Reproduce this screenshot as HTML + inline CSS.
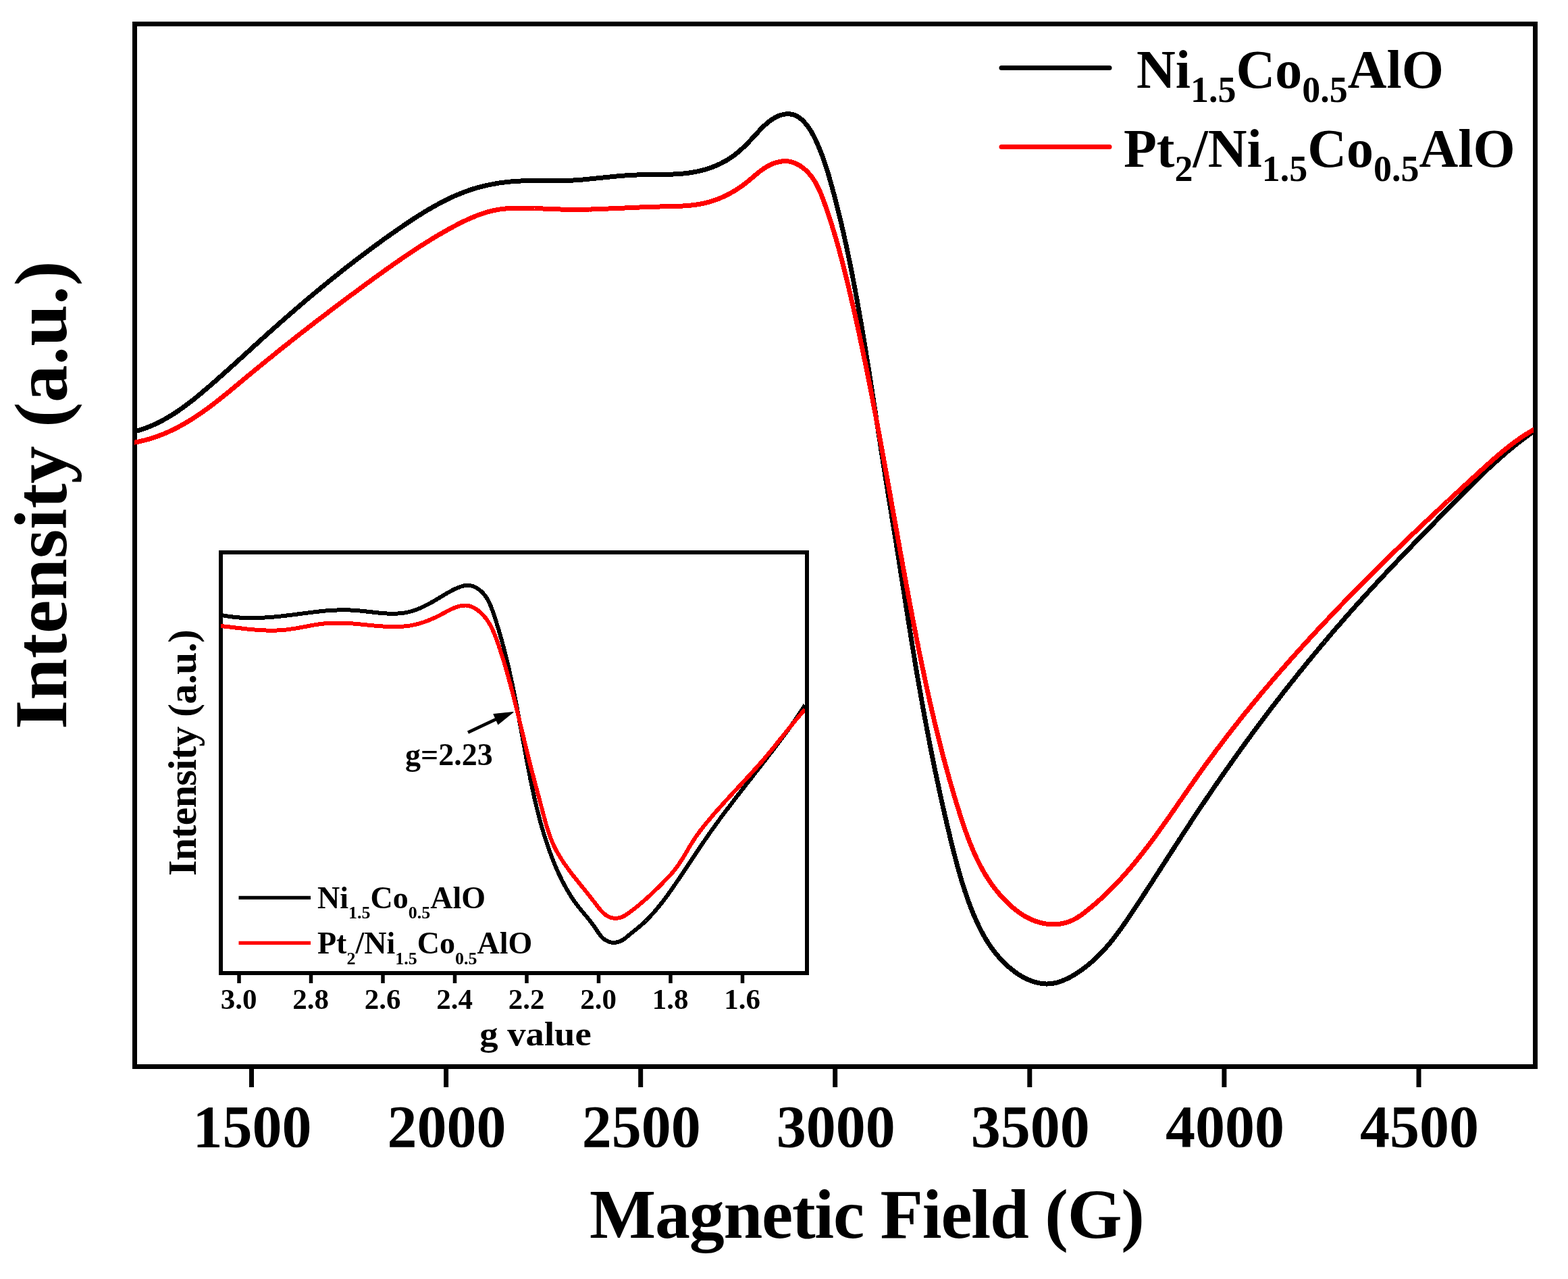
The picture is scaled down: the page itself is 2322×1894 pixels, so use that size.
<!DOCTYPE html>
<html><head><meta charset="utf-8"><title>EPR spectra</title>
<style>html,body{margin:0;padding:0;background:#fff;overflow:hidden;}svg{display:block;}</style>
</head><body>
<svg width="2322" height="1894" viewBox="0 0 2322 1894">
<rect x="0" y="0" width="2322" height="1894" fill="#fff"/>
<defs><clipPath id="cm"><rect x="199" y="39" width="2072" height="1537"/></clipPath><clipPath id="ci"><rect x="327" y="821" width="865" height="617"/></clipPath></defs>
<rect x="199.5" y="35.5" width="2074.0" height="1544.0" fill="none" stroke="#000" stroke-width="7"/>
<line x1="372.5" y1="1579" x2="372.5" y2="1610" stroke="#000" stroke-width="7"/>
<line x1="660.6" y1="1579" x2="660.6" y2="1610" stroke="#000" stroke-width="7"/>
<line x1="948.7" y1="1579" x2="948.7" y2="1610" stroke="#000" stroke-width="7"/>
<line x1="1236.7" y1="1579" x2="1236.7" y2="1610" stroke="#000" stroke-width="7"/>
<line x1="1524.8" y1="1579" x2="1524.8" y2="1610" stroke="#000" stroke-width="7"/>
<line x1="1812.9" y1="1579" x2="1812.9" y2="1610" stroke="#000" stroke-width="7"/>
<line x1="2101.0" y1="1579" x2="2101.0" y2="1610" stroke="#000" stroke-width="7"/>
<g clip-path="url(#cm)" fill="none" stroke-width="7" stroke-linejoin="round" stroke-linecap="butt" shape-rendering="crispEdges">
<path d="M198.3,639.3 L200.3,638.7 L202.3,638.2 L204.3,637.6 L206.2,637.1 L208.2,636.5 L210.1,635.8 L212.0,635.2 L213.9,634.5 L215.8,633.8 L217.7,633.1 L219.6,632.4 L221.5,631.6 L223.3,630.9 L225.2,630.1 L227.0,629.3 L228.8,628.5 L230.6,627.6 L232.4,626.8 L234.2,625.9 L236.0,625.0 L237.8,624.1 L239.5,623.2 L241.3,622.2 L243.0,621.3 L244.8,620.3 L246.5,619.3 L248.2,618.4 L249.9,617.3 L251.6,616.3 L253.3,615.3 L255.0,614.2 L256.7,613.2 L258.4,612.1 L260.0,611.0 L261.7,609.9 L263.3,608.8 L265.0,607.7 L266.6,606.5 L268.2,605.4 L269.8,604.3 L271.5,603.1 L273.1,601.9 L274.7,600.7 L276.3,599.5 L277.9,598.3 L279.5,597.1 L281.0,595.9 L282.6,594.7 L284.2,593.5 L285.8,592.2 L287.3,591.0 L288.9,589.7 L290.4,588.5 L292.0,587.2 L293.5,585.9 L295.1,584.7 L296.6,583.4 L298.2,582.1 L299.7,580.8 L301.2,579.5 L302.7,578.2 L304.3,576.9 L305.8,575.6 L307.3,574.3 L308.8,573.0 L310.4,571.7 L311.9,570.4 L313.4,569.1 L314.9,567.8 L316.4,566.5 L317.9,565.2 L319.4,563.8 L320.9,562.5 L322.4,561.2 L323.9,559.9 L325.4,558.5 L326.9,557.2 L328.4,555.9 L329.9,554.5 L331.4,553.2 L332.9,551.9 L334.4,550.5 L335.9,549.2 L337.4,547.9 L338.9,546.5 L340.4,545.2 L341.9,543.9 L343.3,542.5 L344.8,541.2 L346.3,539.8 L347.8,538.5 L349.3,537.1 L350.8,535.8 L352.2,534.4 L353.7,533.1 L355.2,531.8 L356.7,530.4 L358.2,529.1 L359.6,527.7 L361.1,526.4 L362.6,525.0 L364.1,523.7 L365.6,522.3 L367.0,521.0 L368.5,519.6 L370.0,518.3 L371.5,516.9 L373.0,515.6 L374.4,514.2 L375.9,512.9 L377.4,511.5 L378.9,510.2 L380.3,508.8 L381.8,507.5 L383.3,506.2 L384.8,504.8 L386.3,503.5 L387.8,502.1 L389.2,500.8 L390.7,499.4 L392.2,498.1 L393.7,496.8 L395.2,495.4 L396.7,494.1 L398.1,492.8 L399.6,491.4 L401.1,490.1 L402.6,488.8 L404.1,487.4 L405.6,486.1 L407.1,484.8 L408.6,483.5 L410.1,482.1 L411.6,480.8 L413.1,479.5 L414.6,478.2 L416.1,476.8 L417.6,475.5 L419.1,474.2 L420.6,472.9 L422.1,471.6 L423.6,470.2 L425.1,468.9 L426.6,467.6 L428.1,466.3 L429.6,465.0 L431.1,463.7 L432.6,462.4 L434.1,461.1 L435.6,459.8 L437.1,458.5 L438.6,457.2 L440.1,455.9 L441.7,454.6 L443.2,453.3 L444.7,452.0 L446.2,450.7 L447.7,449.4 L449.2,448.1 L450.8,446.8 L452.3,445.5 L453.8,444.2 L455.3,442.9 L456.9,441.6 L458.4,440.4 L459.9,439.1 L461.4,437.8 L463.0,436.5 L464.5,435.2 L466.0,434.0 L467.6,432.7 L469.1,431.4 L470.6,430.1 L472.2,428.9 L473.7,427.6 L475.3,426.3 L476.8,425.1 L478.3,423.8 L479.9,422.5 L481.4,421.3 L483.0,420.0 L484.5,418.7 L486.1,417.5 L487.6,416.2 L489.2,415.0 L490.7,413.7 L492.3,412.5 L493.8,411.2 L495.4,410.0 L496.9,408.7 L498.5,407.5 L500.1,406.2 L501.6,405.0 L503.2,403.7 L504.8,402.5 L506.3,401.3 L507.9,400.0 L509.5,398.8 L511.0,397.6 L512.6,396.3 L514.2,395.1 L515.7,393.9 L517.3,392.6 L518.9,391.4 L520.5,390.2 L522.1,389.0 L523.6,387.8 L525.2,386.5 L526.8,385.3 L528.4,384.1 L530.0,382.9 L531.6,381.7 L533.2,380.5 L534.8,379.3 L536.4,378.1 L538.0,376.9 L539.6,375.7 L541.2,374.4 L542.8,373.2 L544.4,372.1 L546.0,370.9 L547.6,369.7 L549.2,368.5 L550.8,367.3 L552.4,366.1 L554.0,364.9 L555.6,363.7 L557.2,362.5 L558.9,361.4 L560.5,360.2 L562.1,359.0 L563.7,357.8 L565.4,356.6 L567.0,355.5 L568.6,354.3 L570.2,353.1 L571.9,352.0 L573.5,350.8 L575.1,349.6 L576.8,348.5 L578.4,347.3 L580.1,346.2 L581.7,345.0 L583.4,343.9 L585.0,342.7 L586.7,341.6 L588.3,340.4 L590.0,339.3 L591.6,338.1 L593.3,337.0 L594.9,335.8 L596.6,334.7 L598.2,333.6 L599.9,332.4 L601.6,331.3 L603.2,330.2 L604.9,329.1 L606.6,328.0 L608.3,326.8 L610.0,325.7 L611.6,324.6 L613.3,323.5 L615.0,322.4 L616.7,321.3 L618.4,320.3 L620.1,319.2 L621.8,318.1 L623.5,317.0 L625.2,316.0 L626.9,314.9 L628.6,313.9 L630.3,312.8 L632.0,311.8 L633.8,310.8 L635.5,309.8 L637.2,308.8 L638.9,307.8 L640.7,306.8 L642.4,305.8 L644.2,304.8 L645.9,303.8 L647.7,302.9 L649.4,301.9 L651.2,301.0 L652.9,300.0 L654.7,299.1 L656.5,298.2 L658.2,297.3 L660.0,296.4 L661.8,295.5 L663.6,294.7 L665.4,293.8 L667.2,293.0 L669.0,292.1 L670.8,291.3 L672.6,290.5 L674.4,289.7 L676.2,288.9 L678.1,288.1 L679.9,287.4 L681.7,286.6 L683.6,285.9 L685.4,285.2 L687.3,284.5 L689.1,283.8 L691.0,283.1 L692.9,282.4 L694.7,281.8 L696.6,281.2 L698.5,280.5 L700.4,279.9 L702.3,279.3 L704.2,278.8 L706.1,278.2 L708.0,277.7 L709.9,277.1 L711.8,276.6 L713.8,276.1 L715.7,275.7 L717.6,275.2 L719.6,274.7 L721.5,274.3 L723.5,273.9 L725.4,273.5 L727.4,273.1 L729.4,272.7 L731.3,272.4 L733.3,272.0 L735.3,271.7 L737.2,271.4 L739.2,271.0 L741.2,270.8 L743.2,270.5 L745.2,270.2 L747.2,270.0 L749.2,269.7 L751.2,269.5 L753.1,269.3 L755.1,269.1 L757.1,268.9 L759.1,268.7 L761.1,268.6 L763.2,268.4 L765.2,268.3 L767.2,268.2 L769.2,268.1 L771.2,268.0 L773.2,267.9 L775.2,267.8 L777.2,267.8 L779.2,267.7 L781.2,267.7 L783.2,267.6 L785.2,267.6 L787.2,267.6 L789.2,267.6 L791.2,267.6 L793.2,267.6 L795.2,267.6 L797.2,267.7 L799.2,267.7 L801.2,267.7 L803.2,267.8 L805.2,267.8 L807.2,267.8 L809.2,267.8 L811.2,267.9 L813.2,267.9 L815.2,267.9 L817.2,267.9 L819.2,267.9 L821.2,267.9 L823.2,267.9 L825.2,267.9 L827.2,267.9 L829.2,267.9 L831.2,267.8 L833.2,267.8 L835.2,267.7 L837.2,267.7 L839.2,267.6 L841.2,267.5 L843.1,267.4 L845.1,267.3 L847.1,267.2 L849.1,267.0 L851.1,266.9 L853.1,266.8 L855.1,266.6 L857.1,266.5 L859.0,266.3 L861.0,266.1 L863.0,266.0 L865.0,265.8 L867.0,265.6 L869.0,265.4 L871.0,265.2 L873.0,265.0 L874.9,264.8 L876.9,264.6 L878.9,264.4 L880.9,264.2 L882.9,264.0 L884.9,263.8 L886.9,263.6 L888.8,263.4 L890.8,263.2 L892.8,263.0 L894.8,262.8 L896.8,262.6 L898.8,262.4 L900.8,262.2 L902.8,262.0 L904.7,261.8 L906.7,261.6 L908.7,261.4 L910.7,261.2 L912.7,261.0 L914.7,260.9 L916.7,260.7 L918.7,260.5 L920.7,260.4 L922.7,260.2 L924.7,260.0 L926.7,259.9 L928.7,259.8 L930.7,259.6 L932.7,259.5 L934.7,259.4 L936.7,259.3 L938.7,259.2 L940.7,259.1 L942.7,259.0 L944.7,258.9 L946.7,258.9 L948.7,258.8 L950.7,258.8 L952.7,258.7 L954.7,258.7 L956.7,258.7 L958.7,258.6 L960.8,258.6 L962.8,258.6 L964.8,258.6 L966.8,258.6 L968.8,258.5 L970.8,258.5 L972.8,258.5 L974.8,258.5 L976.8,258.5 L978.9,258.5 L980.9,258.4 L982.9,258.4 L984.9,258.4 L986.9,258.3 L988.9,258.3 L990.9,258.2 L992.9,258.2 L994.9,258.1 L996.9,258.0 L998.9,257.9 L1000.9,257.8 L1002.9,257.7 L1004.9,257.6 L1006.9,257.4 L1008.8,257.3 L1010.8,257.1 L1012.8,256.9 L1014.8,256.7 L1016.8,256.5 L1018.7,256.2 L1020.7,256.0 L1022.7,255.7 L1024.6,255.4 L1026.6,255.0 L1028.6,254.7 L1030.5,254.3 L1032.5,253.9 L1034.4,253.5 L1036.4,253.1 L1038.3,252.6 L1040.2,252.1 L1042.2,251.6 L1044.1,251.1 L1046.0,250.5 L1047.9,249.9 L1049.9,249.3 L1051.8,248.6 L1053.6,247.9 L1055.5,247.2 L1057.4,246.5 L1059.3,245.7 L1061.1,244.9 L1062.9,244.1 L1064.8,243.3 L1066.6,242.4 L1068.4,241.5 L1070.1,240.6 L1071.9,239.7 L1073.7,238.7 L1075.4,237.7 L1077.1,236.7 L1078.8,235.7 L1080.4,234.6 L1082.1,233.5 L1083.7,232.4 L1085.3,231.3 L1086.9,230.1 L1088.5,228.9 L1090.0,227.7 L1091.5,226.5 L1093.0,225.3 L1094.5,224.0 L1096.0,222.7 L1097.5,221.4 L1098.9,220.1 L1100.3,218.7 L1101.8,217.4 L1103.2,216.0 L1104.6,214.6 L1106.0,213.2 L1107.4,211.7 L1108.8,210.3 L1110.2,208.8 L1111.6,207.4 L1113.0,205.9 L1114.4,204.4 L1115.8,202.9 L1117.2,201.4 L1118.6,199.8 L1120.0,198.3 L1121.4,196.8 L1122.8,195.2 L1124.3,193.7 L1125.7,192.2 L1127.2,190.7 L1128.6,189.2 L1130.1,187.8 L1131.6,186.3 L1133.1,184.9 L1134.7,183.5 L1136.2,182.2 L1137.8,180.9 L1139.4,179.6 L1141.0,178.4 L1142.6,177.3 L1144.3,176.2 L1145.9,175.2 L1147.6,174.2 L1149.4,173.3 L1151.2,172.4 L1152.9,171.7 L1154.8,171.0 L1156.6,170.4 L1158.4,169.9 L1160.3,169.4 L1162.2,169.1 L1164.0,168.9 L1165.9,168.8 L1167.7,168.8 L1169.6,168.9 L1171.4,169.1 L1173.2,169.4 L1175.0,169.9 L1176.7,170.5 L1178.4,171.2 L1180.1,172.0 L1181.7,173.0 L1183.4,174.0 L1184.9,175.2 L1186.5,176.5 L1188.0,177.8 L1189.4,179.2 L1190.8,180.7 L1192.2,182.2 L1193.6,183.8 L1194.9,185.5 L1196.2,187.2 L1197.4,188.9 L1198.6,190.6 L1199.7,192.4 L1200.8,194.1 L1201.9,195.9 L1202.9,197.7 L1203.9,199.5 L1204.9,201.3 L1205.8,203.1 L1206.7,205.0 L1207.6,206.8 L1208.5,208.6 L1209.3,210.5 L1210.1,212.3 L1210.9,214.2 L1211.8,216.0 L1212.5,217.9 L1213.3,219.8 L1214.1,221.6 L1214.8,223.5 L1215.6,225.3 L1216.3,227.2 L1217.0,229.1 L1217.7,231.0 L1218.4,232.8 L1219.1,234.7 L1219.7,236.6 L1220.4,238.5 L1221.0,240.4 L1221.7,242.3 L1222.3,244.1 L1222.9,246.0 L1223.5,247.9 L1224.1,249.8 L1224.7,251.7 L1225.3,253.6 L1225.9,255.5 L1226.5,257.4 L1227.1,259.3 L1227.6,261.2 L1228.2,263.1 L1228.7,265.0 L1229.3,267.0 L1229.8,268.9 L1230.4,270.8 L1230.9,272.7 L1231.4,274.6 L1231.9,276.5 L1232.5,278.4 L1233.0,280.4 L1233.5,282.3 L1234.0,284.2 L1234.5,286.1 L1235.1,288.0 L1235.6,290.0 L1236.1,291.9 L1236.6,293.8 L1237.1,295.8 L1237.6,297.7 L1238.1,299.6 L1238.6,301.5 L1239.1,303.5 L1239.6,305.4 L1240.0,307.3 L1240.5,309.3 L1241.0,311.2 L1241.5,313.1 L1242.0,315.1 L1242.4,317.0 L1242.9,319.0 L1243.4,320.9 L1243.9,322.8 L1244.3,324.8 L1244.8,326.7 L1245.2,328.7 L1245.7,330.6 L1246.2,332.6 L1246.6,334.5 L1247.1,336.5 L1247.5,338.4 L1248.0,340.4 L1248.4,342.3 L1248.9,344.2 L1249.3,346.2 L1249.7,348.1 L1250.2,350.1 L1250.6,352.1 L1251.0,354.0 L1251.5,356.0 L1251.9,357.9 L1252.3,359.9 L1252.8,361.8 L1253.2,363.8 L1253.6,365.7 L1254.0,367.7 L1254.4,369.7 L1254.9,371.6 L1255.3,373.6 L1255.7,375.5 L1256.1,377.5 L1256.5,379.4 L1256.9,381.4 L1257.3,383.4 L1257.7,385.3 L1258.1,387.3 L1258.5,389.3 L1258.9,391.2 L1259.3,393.2 L1259.7,395.1 L1260.1,397.1 L1260.5,399.1 L1260.9,401.0 L1261.3,403.0 L1261.7,405.0 L1262.1,406.9 L1262.4,408.9 L1262.8,410.9 L1263.2,412.8 L1263.6,414.8 L1264.0,416.8 L1264.3,418.7 L1264.7,420.7 L1265.1,422.7 L1265.5,424.6 L1265.8,426.6 L1266.2,428.6 L1266.6,430.5 L1266.9,432.5 L1267.3,434.5 L1267.7,436.4 L1268.0,438.4 L1268.4,440.4 L1268.7,442.3 L1269.1,444.3 L1269.5,446.3 L1269.8,448.2 L1270.2,450.2 L1270.5,452.2 L1270.9,454.1 L1271.2,456.1 L1271.6,458.1 L1271.9,460.0 L1272.3,462.0 L1272.6,464.0 L1273.0,466.0 L1273.3,467.9 L1273.7,469.9 L1274.0,471.9 L1274.3,473.8 L1274.7,475.8 L1275.0,477.8 L1275.4,479.7 L1275.7,481.7 L1276.0,483.7 L1276.4,485.7 L1276.7,487.6 L1277.0,489.6 L1277.4,491.6 L1277.7,493.5 L1278.0,495.5 L1278.4,497.5 L1278.7,499.5 L1279.0,501.4 L1279.3,503.4 L1279.7,505.4 L1280.0,507.3 L1280.3,509.3 L1280.6,511.3 L1281.0,513.3 L1281.3,515.2 L1281.6,517.2 L1281.9,519.2 L1282.3,521.1 L1282.6,523.1 L1282.9,525.1 L1283.2,527.1 L1283.5,529.0 L1283.8,531.0 L1284.2,533.0 L1284.5,535.0 L1284.8,536.9 L1285.1,538.9 L1285.4,540.9 L1285.7,542.8 L1286.1,544.8 L1286.4,546.8 L1286.7,548.8 L1287.0,550.7 L1287.3,552.7 L1287.6,554.7 L1287.9,556.7 L1288.2,558.6 L1288.5,560.6 L1288.8,562.6 L1289.2,564.6 L1289.5,566.5 L1289.8,568.5 L1290.1,570.5 L1290.4,572.5 L1290.7,574.4 L1291.0,576.4 L1291.3,578.4 L1291.6,580.3 L1291.9,582.3 L1292.2,584.3 L1292.5,586.3 L1292.8,588.2 L1293.1,590.2 L1293.4,592.2 L1293.7,594.2 L1294.0,596.1 L1294.3,598.1 L1294.7,600.1 L1295.0,602.1 L1295.3,604.0 L1295.6,606.0 L1295.9,608.0 L1296.2,610.0 L1296.5,611.9 L1296.8,613.9 L1297.1,615.9 L1297.4,617.9 L1297.7,619.8 L1298.0,621.8 L1298.3,623.8 L1298.6,625.8 L1298.9,627.7 L1299.2,629.7 L1299.5,631.7 L1299.8,633.7 L1300.1,635.6 L1300.4,637.6 L1300.7,639.6 L1301.0,641.6 L1301.3,643.5 L1301.6,645.5 L1301.9,647.5 L1302.2,649.5 L1302.5,651.4 L1302.9,653.4 L1303.2,655.4 L1303.5,657.4 L1303.8,659.3 L1304.1,661.3 L1304.4,663.3 L1304.7,665.3 L1305.0,667.2 L1305.3,669.2 L1305.6,671.2 L1305.9,673.1 L1306.2,675.1 L1306.5,677.1 L1306.8,679.1 L1307.2,681.0 L1307.5,683.0 L1307.8,685.0 L1308.1,687.0 L1308.4,688.9 L1308.7,690.9 L1309.0,692.9 L1309.3,694.9 L1309.7,696.8 L1310.0,698.8 L1310.3,700.8 L1310.6,702.8 L1310.9,704.7 L1311.2,706.7 L1311.5,708.7 L1311.9,710.7 L1312.2,712.6 L1312.5,714.6 L1312.8,716.6 L1313.1,718.5 L1313.5,720.5 L1313.8,722.5 L1314.1,724.5 L1314.4,726.4 L1314.7,728.4 L1315.0,730.4 L1315.4,732.4 L1315.7,734.3 L1316.0,736.3 L1316.3,738.3 L1316.6,740.3 L1317.0,742.2 L1317.3,744.2 L1317.6,746.2 L1317.9,748.2 L1318.2,750.1 L1318.6,752.1 L1318.9,754.1 L1319.2,756.0 L1319.5,758.0 L1319.8,760.0 L1320.2,762.0 L1320.5,763.9 L1320.8,765.9 L1321.1,767.9 L1321.5,769.9 L1321.8,771.8 L1322.1,773.8 L1322.4,775.8 L1322.7,777.8 L1323.1,779.7 L1323.4,781.7 L1323.7,783.7 L1324.0,785.6 L1324.3,787.6 L1324.7,789.6 L1325.0,791.6 L1325.3,793.5 L1325.6,795.5 L1325.9,797.5 L1326.3,799.5 L1326.6,801.4 L1326.9,803.4 L1327.2,805.4 L1327.5,807.4 L1327.8,809.3 L1328.2,811.3 L1328.5,813.3 L1328.8,815.3 L1329.1,817.2 L1329.4,819.2 L1329.7,821.2 L1330.1,823.1 L1330.4,825.1 L1330.7,827.1 L1331.0,829.1 L1331.3,831.0 L1331.6,833.0 L1331.9,835.0 L1332.3,837.0 L1332.6,838.9 L1332.9,840.9 L1333.2,842.9 L1333.5,844.9 L1333.8,846.8 L1334.1,848.8 L1334.4,850.8 L1334.7,852.8 L1335.0,854.7 L1335.4,856.7 L1335.7,858.7 L1336.0,860.7 L1336.3,862.6 L1336.6,864.6 L1336.9,866.6 L1337.2,868.6 L1337.5,870.5 L1337.8,872.5 L1338.1,874.5 L1338.4,876.5 L1338.8,878.4 L1339.1,880.4 L1339.4,882.4 L1339.7,884.4 L1340.0,886.3 L1340.3,888.3 L1340.6,890.3 L1340.9,892.2 L1341.2,894.2 L1341.5,896.2 L1341.8,898.2 L1342.2,900.1 L1342.5,902.1 L1342.8,904.1 L1343.1,906.1 L1343.4,908.0 L1343.7,910.0 L1344.0,912.0 L1344.3,914.0 L1344.6,915.9 L1344.9,917.9 L1345.3,919.9 L1345.6,921.9 L1345.9,923.8 L1346.2,925.8 L1346.5,927.8 L1346.8,929.7 L1347.1,931.7 L1347.4,933.7 L1347.8,935.7 L1348.1,937.6 L1348.4,939.6 L1348.7,941.6 L1349.0,943.6 L1349.3,945.5 L1349.7,947.5 L1350.0,949.5 L1350.3,951.5 L1350.6,953.4 L1350.9,955.4 L1351.3,957.4 L1351.6,959.3 L1351.9,961.3 L1352.2,963.3 L1352.5,965.3 L1352.9,967.2 L1353.2,969.2 L1353.5,971.2 L1353.8,973.1 L1354.2,975.1 L1354.5,977.1 L1354.8,979.1 L1355.1,981.0 L1355.5,983.0 L1355.8,985.0 L1356.1,986.9 L1356.5,988.9 L1356.8,990.9 L1357.1,992.8 L1357.5,994.8 L1357.8,996.8 L1358.1,998.8 L1358.5,1000.7 L1358.8,1002.7 L1359.1,1004.7 L1359.5,1006.6 L1359.8,1008.6 L1360.2,1010.6 L1360.5,1012.5 L1360.8,1014.5 L1361.2,1016.5 L1361.5,1018.4 L1361.9,1020.4 L1362.2,1022.4 L1362.6,1024.3 L1362.9,1026.3 L1363.3,1028.3 L1363.6,1030.2 L1364.0,1032.2 L1364.3,1034.2 L1364.7,1036.1 L1365.0,1038.1 L1365.4,1040.1 L1365.7,1042.0 L1366.1,1044.0 L1366.4,1046.0 L1366.8,1047.9 L1367.1,1049.9 L1367.5,1051.9 L1367.8,1053.8 L1368.2,1055.8 L1368.6,1057.8 L1368.9,1059.7 L1369.3,1061.7 L1369.7,1063.7 L1370.0,1065.6 L1370.4,1067.6 L1370.8,1069.6 L1371.1,1071.5 L1371.5,1073.5 L1371.9,1075.5 L1372.2,1077.4 L1372.6,1079.4 L1373.0,1081.3 L1373.3,1083.3 L1373.7,1085.3 L1374.1,1087.2 L1374.5,1089.2 L1374.9,1091.2 L1375.2,1093.1 L1375.6,1095.1 L1376.0,1097.0 L1376.4,1099.0 L1376.8,1101.0 L1377.1,1102.9 L1377.5,1104.9 L1377.9,1106.9 L1378.3,1108.8 L1378.7,1110.8 L1379.1,1112.7 L1379.5,1114.7 L1379.9,1116.7 L1380.2,1118.6 L1380.6,1120.6 L1381.0,1122.5 L1381.4,1124.5 L1381.8,1126.4 L1382.2,1128.4 L1382.6,1130.4 L1383.0,1132.3 L1383.4,1134.3 L1383.8,1136.2 L1384.2,1138.2 L1384.6,1140.2 L1385.0,1142.1 L1385.4,1144.1 L1385.9,1146.0 L1386.3,1148.0 L1386.7,1149.9 L1387.1,1151.9 L1387.5,1153.9 L1387.9,1155.8 L1388.3,1157.8 L1388.7,1159.7 L1389.2,1161.7 L1389.6,1163.6 L1390.0,1165.6 L1390.4,1167.5 L1390.8,1169.5 L1391.3,1171.5 L1391.7,1173.4 L1392.1,1175.4 L1392.5,1177.3 L1393.0,1179.3 L1393.4,1181.2 L1393.8,1183.2 L1394.3,1185.1 L1394.7,1187.1 L1395.1,1189.0 L1395.6,1191.0 L1396.0,1192.9 L1396.4,1194.9 L1396.9,1196.8 L1397.3,1198.8 L1397.8,1200.7 L1398.2,1202.7 L1398.7,1204.6 L1399.1,1206.6 L1399.6,1208.5 L1400.0,1210.5 L1400.5,1212.4 L1400.9,1214.4 L1401.4,1216.3 L1401.8,1218.3 L1402.3,1220.2 L1402.7,1222.2 L1403.2,1224.1 L1403.6,1226.1 L1404.1,1228.0 L1404.6,1230.0 L1405.0,1231.9 L1405.5,1233.9 L1406.0,1235.8 L1406.4,1237.8 L1406.9,1239.7 L1407.4,1241.7 L1407.8,1243.6 L1408.3,1245.5 L1408.8,1247.5 L1409.3,1249.4 L1409.8,1251.4 L1410.2,1253.3 L1410.7,1255.3 L1411.2,1257.2 L1411.7,1259.1 L1412.2,1261.1 L1412.7,1263.0 L1413.2,1265.0 L1413.7,1266.9 L1414.2,1268.8 L1414.7,1270.8 L1415.2,1272.7 L1415.7,1274.7 L1416.2,1276.6 L1416.7,1278.5 L1417.2,1280.5 L1417.8,1282.4 L1418.3,1284.3 L1418.8,1286.2 L1419.4,1288.2 L1419.9,1290.1 L1420.4,1292.0 L1421.0,1293.9 L1421.5,1295.9 L1422.1,1297.8 L1422.7,1299.7 L1423.2,1301.6 L1423.8,1303.5 L1424.4,1305.4 L1425.0,1307.3 L1425.6,1309.2 L1426.2,1311.2 L1426.8,1313.1 L1427.4,1315.0 L1428.0,1316.9 L1428.6,1318.8 L1429.3,1320.6 L1429.9,1322.5 L1430.5,1324.4 L1431.2,1326.3 L1431.8,1328.2 L1432.5,1330.1 L1433.2,1332.0 L1433.8,1333.8 L1434.5,1335.7 L1435.2,1337.6 L1435.9,1339.4 L1436.6,1341.3 L1437.3,1343.2 L1438.1,1345.0 L1438.8,1346.9 L1439.5,1348.7 L1440.3,1350.6 L1441.0,1352.4 L1441.8,1354.3 L1442.6,1356.1 L1443.4,1358.0 L1444.2,1359.8 L1445.0,1361.6 L1445.8,1363.4 L1446.6,1365.2 L1447.5,1367.1 L1448.3,1368.9 L1449.2,1370.7 L1450.0,1372.5 L1450.9,1374.2 L1451.8,1376.0 L1452.7,1377.8 L1453.6,1379.6 L1454.6,1381.3 L1455.5,1383.1 L1456.5,1384.8 L1457.5,1386.5 L1458.5,1388.3 L1459.5,1390.0 L1460.5,1391.7 L1461.6,1393.4 L1462.6,1395.1 L1463.7,1396.7 L1464.8,1398.4 L1465.9,1400.1 L1467.0,1401.7 L1468.2,1403.3 L1469.3,1404.9 L1470.5,1406.6 L1471.7,1408.2 L1472.9,1409.7 L1474.1,1411.3 L1475.4,1412.9 L1476.7,1414.4 L1478.0,1415.9 L1479.3,1417.5 L1480.6,1419.0 L1482.0,1420.4 L1483.4,1421.9 L1484.8,1423.4 L1486.2,1424.8 L1487.6,1426.2 L1489.1,1427.7 L1490.6,1429.1 L1492.1,1430.4 L1493.6,1431.8 L1495.2,1433.1 L1496.8,1434.4 L1498.4,1435.7 L1500.0,1437.0 L1501.6,1438.2 L1503.3,1439.5 L1505.0,1440.6 L1506.6,1441.8 L1508.3,1442.9 L1510.1,1444.0 L1511.8,1445.1 L1513.5,1446.1 L1515.3,1447.1 L1517.1,1448.0 L1518.9,1448.9 L1520.7,1449.8 L1522.5,1450.6 L1524.3,1451.4 L1526.1,1452.1 L1528.0,1452.8 L1529.8,1453.5 L1531.7,1454.1 L1533.6,1454.6 L1535.5,1455.1 L1537.3,1455.5 L1539.2,1455.9 L1541.1,1456.2 L1543.0,1456.5 L1544.9,1456.7 L1546.8,1456.9 L1548.8,1457.0 L1550.7,1457.0 L1552.6,1456.9 L1554.5,1456.8 L1556.4,1456.7 L1558.4,1456.4 L1560.3,1456.1 L1562.2,1455.7 L1564.1,1455.3 L1566.0,1454.8 L1568.0,1454.2 L1569.9,1453.6 L1571.8,1452.9 L1573.7,1452.2 L1575.5,1451.4 L1577.4,1450.6 L1579.3,1449.7 L1581.2,1448.8 L1583.0,1447.9 L1584.8,1446.9 L1586.7,1445.9 L1588.5,1444.9 L1590.3,1443.8 L1592.1,1442.7 L1593.8,1441.6 L1595.6,1440.5 L1597.3,1439.3 L1599.0,1438.1 L1600.7,1437.0 L1602.3,1435.8 L1604.0,1434.6 L1605.6,1433.4 L1607.2,1432.2 L1608.8,1431.0 L1610.4,1429.7 L1611.9,1428.5 L1613.5,1427.2 L1615.0,1425.9 L1616.5,1424.6 L1618.0,1423.3 L1619.4,1422.0 L1620.9,1420.7 L1622.3,1419.4 L1623.8,1418.0 L1625.2,1416.6 L1626.6,1415.2 L1628.0,1413.8 L1629.4,1412.4 L1630.8,1411.0 L1632.1,1409.6 L1633.5,1408.1 L1634.8,1406.7 L1636.1,1405.2 L1637.5,1403.7 L1638.8,1402.2 L1640.0,1400.8 L1641.3,1399.2 L1642.6,1397.7 L1643.9,1396.2 L1645.1,1394.7 L1646.4,1393.1 L1647.6,1391.6 L1648.9,1390.0 L1650.1,1388.4 L1651.3,1386.9 L1652.5,1385.3 L1653.7,1383.7 L1654.9,1382.1 L1656.1,1380.5 L1657.3,1378.9 L1658.4,1377.3 L1659.6,1375.7 L1660.8,1374.0 L1661.9,1372.4 L1663.1,1370.8 L1664.2,1369.1 L1665.4,1367.5 L1666.5,1365.8 L1667.6,1364.2 L1668.8,1362.5 L1669.9,1360.9 L1671.0,1359.2 L1672.2,1357.6 L1673.3,1355.9 L1674.4,1354.2 L1675.5,1352.6 L1676.6,1350.9 L1677.7,1349.2 L1678.8,1347.6 L1680.0,1345.9 L1681.1,1344.2 L1682.2,1342.5 L1683.3,1340.9 L1684.4,1339.2 L1685.5,1337.5 L1686.6,1335.9 L1687.7,1334.2 L1688.8,1332.5 L1689.9,1330.8 L1691.0,1329.2 L1692.1,1327.5 L1693.2,1325.8 L1694.3,1324.1 L1695.4,1322.5 L1696.5,1320.8 L1697.6,1319.1 L1698.7,1317.4 L1699.7,1315.7 L1700.8,1314.1 L1701.9,1312.4 L1703.0,1310.7 L1704.1,1309.0 L1705.2,1307.4 L1706.3,1305.7 L1707.4,1304.0 L1708.5,1302.3 L1709.5,1300.6 L1710.6,1299.0 L1711.7,1297.3 L1712.8,1295.6 L1713.9,1293.9 L1715.0,1292.2 L1716.1,1290.6 L1717.1,1288.9 L1718.2,1287.2 L1719.3,1285.5 L1720.4,1283.8 L1721.5,1282.2 L1722.5,1280.5 L1723.6,1278.8 L1724.7,1277.1 L1725.8,1275.4 L1726.9,1273.7 L1728.0,1272.1 L1729.0,1270.4 L1730.1,1268.7 L1731.2,1267.0 L1732.3,1265.3 L1733.4,1263.7 L1734.5,1262.0 L1735.5,1260.3 L1736.6,1258.6 L1737.7,1256.9 L1738.8,1255.3 L1739.9,1253.6 L1741.0,1251.9 L1742.0,1250.2 L1743.1,1248.6 L1744.2,1246.9 L1745.3,1245.2 L1746.4,1243.5 L1747.5,1241.8 L1748.6,1240.2 L1749.6,1238.5 L1750.7,1236.8 L1751.8,1235.1 L1752.9,1233.5 L1754.0,1231.8 L1755.1,1230.1 L1756.2,1228.4 L1757.3,1226.8 L1758.4,1225.1 L1759.5,1223.4 L1760.6,1221.8 L1761.7,1220.1 L1762.8,1218.4 L1763.8,1216.7 L1764.9,1215.1 L1766.0,1213.4 L1767.1,1211.7 L1768.2,1210.1 L1769.3,1208.4 L1770.5,1206.7 L1771.6,1205.1 L1772.7,1203.4 L1773.8,1201.7 L1774.9,1200.1 L1776.0,1198.4 L1777.1,1196.8 L1778.2,1195.1 L1779.3,1193.4 L1780.4,1191.8 L1781.5,1190.1 L1782.7,1188.5 L1783.8,1186.8 L1784.9,1185.1 L1786.0,1183.5 L1787.1,1181.8 L1788.2,1180.2 L1789.4,1178.5 L1790.5,1176.9 L1791.6,1175.2 L1792.7,1173.6 L1793.9,1171.9 L1795.0,1170.3 L1796.1,1168.6 L1797.3,1167.0 L1798.4,1165.3 L1799.5,1163.7 L1800.6,1162.0 L1801.8,1160.4 L1802.9,1158.7 L1804.0,1157.1 L1805.2,1155.4 L1806.3,1153.8 L1807.5,1152.2 L1808.6,1150.5 L1809.7,1148.9 L1810.9,1147.2 L1812.0,1145.6 L1813.2,1144.0 L1814.3,1142.3 L1815.5,1140.7 L1816.6,1139.1 L1817.8,1137.4 L1818.9,1135.8 L1820.1,1134.1 L1821.2,1132.5 L1822.4,1130.9 L1823.5,1129.3 L1824.7,1127.6 L1825.8,1126.0 L1827.0,1124.4 L1828.2,1122.7 L1829.3,1121.1 L1830.5,1119.5 L1831.6,1117.9 L1832.8,1116.2 L1834.0,1114.6 L1835.1,1113.0 L1836.3,1111.4 L1837.5,1109.7 L1838.6,1108.1 L1839.8,1106.5 L1841.0,1104.9 L1842.1,1103.3 L1843.3,1101.6 L1844.5,1100.0 L1845.7,1098.4 L1846.9,1096.8 L1848.0,1095.2 L1849.2,1093.6 L1850.4,1091.9 L1851.6,1090.3 L1852.8,1088.7 L1853.9,1087.1 L1855.1,1085.5 L1856.3,1083.9 L1857.5,1082.3 L1858.7,1080.7 L1859.9,1079.1 L1861.1,1077.5 L1862.3,1075.9 L1863.5,1074.3 L1864.6,1072.7 L1865.8,1071.1 L1867.0,1069.5 L1868.2,1067.9 L1869.4,1066.3 L1870.6,1064.7 L1871.8,1063.1 L1873.0,1061.5 L1874.2,1059.9 L1875.4,1058.3 L1876.7,1056.7 L1877.9,1055.1 L1879.1,1053.5 L1880.3,1051.9 L1881.5,1050.3 L1882.7,1048.7 L1883.9,1047.1 L1885.1,1045.5 L1886.3,1044.0 L1887.6,1042.4 L1888.8,1040.8 L1890.0,1039.2 L1891.2,1037.6 L1892.4,1036.0 L1893.7,1034.5 L1894.9,1032.9 L1896.1,1031.3 L1897.3,1029.7 L1898.6,1028.1 L1899.8,1026.6 L1901.0,1025.0 L1902.2,1023.4 L1903.5,1021.8 L1904.7,1020.3 L1905.9,1018.7 L1907.2,1017.1 L1908.4,1015.6 L1909.7,1014.0 L1910.9,1012.4 L1912.1,1010.9 L1913.4,1009.3 L1914.6,1007.7 L1915.9,1006.2 L1917.1,1004.6 L1918.4,1003.0 L1919.6,1001.5 L1920.9,999.9 L1922.1,998.3 L1923.4,996.8 L1924.6,995.2 L1925.9,993.7 L1927.1,992.1 L1928.4,990.6 L1929.6,989.0 L1930.9,987.5 L1932.1,985.9 L1933.4,984.4 L1934.7,982.8 L1935.9,981.3 L1937.2,979.7 L1938.5,978.2 L1939.7,976.6 L1941.0,975.1 L1942.3,973.5 L1943.5,972.0 L1944.8,970.4 L1946.1,968.9 L1947.4,967.4 L1948.6,965.8 L1949.9,964.3 L1951.2,962.8 L1952.5,961.2 L1953.7,959.7 L1955.0,958.2 L1956.3,956.6 L1957.6,955.1 L1958.9,953.6 L1960.2,952.0 L1961.5,950.5 L1962.7,949.0 L1964.0,947.4 L1965.3,945.9 L1966.6,944.4 L1967.9,942.9 L1969.2,941.4 L1970.5,939.8 L1971.8,938.3 L1973.1,936.8 L1974.4,935.3 L1975.7,933.8 L1977.0,932.2 L1978.3,930.7 L1979.6,929.2 L1980.9,927.7 L1982.2,926.2 L1983.5,924.7 L1984.9,923.2 L1986.2,921.7 L1987.5,920.2 L1988.8,918.7 L1990.1,917.1 L1991.4,915.6 L1992.7,914.1 L1994.1,912.6 L1995.4,911.1 L1996.7,909.6 L1998.0,908.1 L1999.4,906.6 L2000.7,905.2 L2002.0,903.7 L2003.3,902.2 L2004.7,900.7 L2006.0,899.2 L2007.3,897.7 L2008.7,896.2 L2010.0,894.7 L2011.3,893.2 L2012.7,891.7 L2014.0,890.3 L2015.4,888.8 L2016.7,887.3 L2018.0,885.8 L2019.4,884.3 L2020.7,882.8 L2022.1,881.4 L2023.4,879.9 L2024.8,878.4 L2026.1,876.9 L2027.5,875.5 L2028.8,874.0 L2030.2,872.5 L2031.5,871.0 L2032.9,869.6 L2034.2,868.1 L2035.6,866.6 L2036.9,865.2 L2038.3,863.7 L2039.7,862.2 L2041.0,860.8 L2042.4,859.3 L2043.7,857.8 L2045.1,856.4 L2046.5,854.9 L2047.8,853.5 L2049.2,852.0 L2050.6,850.5 L2051.9,849.1 L2053.3,847.6 L2054.7,846.2 L2056.0,844.7 L2057.4,843.2 L2058.8,841.8 L2060.2,840.3 L2061.5,838.9 L2062.9,837.4 L2064.3,836.0 L2065.7,834.5 L2067.0,833.1 L2068.4,831.6 L2069.8,830.2 L2071.2,828.7 L2072.6,827.3 L2073.9,825.8 L2075.3,824.4 L2076.7,822.9 L2078.1,821.5 L2079.5,820.1 L2080.8,818.6 L2082.2,817.2 L2083.6,815.7 L2085.0,814.3 L2086.4,812.8 L2087.8,811.4 L2089.2,810.0 L2090.5,808.5 L2091.9,807.1 L2093.3,805.6 L2094.7,804.2 L2096.1,802.8 L2097.5,801.3 L2098.9,799.9 L2100.3,798.4 L2101.7,797.0 L2103.1,795.6 L2104.4,794.1 L2105.8,792.7 L2107.2,791.3 L2108.6,789.8 L2110.0,788.4 L2111.4,787.0 L2112.8,785.5 L2114.2,784.1 L2115.6,782.7 L2117.0,781.2 L2118.4,779.8 L2119.8,778.4 L2121.2,776.9 L2122.6,775.5 L2124.0,774.1 L2125.4,772.6 L2126.8,771.2 L2128.2,769.8 L2129.6,768.3 L2131.0,766.9 L2132.4,765.5 L2133.8,764.0 L2135.2,762.6 L2136.6,761.2 L2138.0,759.8 L2139.4,758.3 L2140.8,756.9 L2142.2,755.5 L2143.6,754.0 L2145.0,752.6 L2146.4,751.2 L2147.8,749.8 L2149.1,748.3 L2150.5,746.9 L2151.9,745.5 L2153.3,744.0 L2154.7,742.6 L2156.1,741.2 L2157.6,739.8 L2159.0,738.3 L2160.4,736.9 L2161.8,735.5 L2163.2,734.1 L2164.6,732.6 L2166.0,731.2 L2167.4,729.8 L2168.8,728.4 L2170.2,727.0 L2171.6,725.6 L2173.0,724.1 L2174.4,722.7 L2175.8,721.3 L2177.3,719.9 L2178.7,718.5 L2180.1,717.1 L2181.5,715.7 L2182.9,714.3 L2184.4,712.9 L2185.8,711.5 L2187.2,710.1 L2188.6,708.7 L2190.1,707.3 L2191.5,705.9 L2192.9,704.5 L2194.4,703.2 L2195.8,701.8 L2197.3,700.4 L2198.7,699.0 L2200.2,697.6 L2201.6,696.3 L2203.1,694.9 L2204.5,693.5 L2206.0,692.2 L2207.5,690.8 L2208.9,689.5 L2210.4,688.1 L2211.9,686.8 L2213.3,685.4 L2214.8,684.1 L2216.3,682.8 L2217.8,681.4 L2219.3,680.1 L2220.8,678.8 L2222.3,677.5 L2223.8,676.1 L2225.3,674.8 L2226.8,673.5 L2228.3,672.2 L2229.8,670.9 L2231.3,669.6 L2232.9,668.3 L2234.4,667.0 L2235.9,665.8 L2237.5,664.5 L2239.0,663.2 L2240.5,662.0 L2242.1,660.7 L2243.6,659.4 L2245.2,658.2 L2246.8,656.9 L2248.3,655.7 L2249.9,654.5 L2251.5,653.2 L2253.1,652.0 L2254.7,650.8 L2256.3,649.6 L2257.9,648.4 L2259.5,647.2 L2261.1,646.0 L2262.7,644.8 L2264.3,643.6 L2266.0,642.4 L2267.6,641.3 L2269.2,640.1 L2270.9,638.9 L2272.5,637.8" stroke="#000"/>
<path d="M198.2,655.3 L200.3,655.0 L202.3,654.6 L204.4,654.2 L206.4,653.8 L208.4,653.3 L210.4,652.9 L212.4,652.4 L214.4,651.9 L216.3,651.4 L218.3,650.8 L220.2,650.3 L222.2,649.7 L224.1,649.1 L226.0,648.5 L227.9,647.9 L229.8,647.3 L231.7,646.6 L233.6,645.9 L235.5,645.2 L237.4,644.5 L239.2,643.8 L241.1,643.1 L242.9,642.3 L244.7,641.6 L246.6,640.8 L248.4,640.0 L250.2,639.2 L252.0,638.3 L253.8,637.5 L255.6,636.7 L257.3,635.8 L259.1,634.9 L260.9,634.0 L262.6,633.1 L264.4,632.2 L266.1,631.2 L267.9,630.3 L269.6,629.3 L271.3,628.4 L273.0,627.4 L274.7,626.4 L276.4,625.4 L278.1,624.4 L279.8,623.4 L281.5,622.3 L283.2,621.3 L284.9,620.2 L286.5,619.1 L288.2,618.1 L289.8,617.0 L291.5,615.9 L293.1,614.8 L294.8,613.7 L296.4,612.5 L298.1,611.4 L299.7,610.3 L301.3,609.1 L302.9,608.0 L304.5,606.8 L306.2,605.6 L307.8,604.5 L309.4,603.3 L311.0,602.1 L312.6,600.9 L314.2,599.7 L315.7,598.5 L317.3,597.3 L318.9,596.1 L320.5,594.8 L322.1,593.6 L323.7,592.4 L325.2,591.1 L326.8,589.9 L328.4,588.6 L329.9,587.4 L331.5,586.1 L333.1,584.9 L334.6,583.6 L336.2,582.3 L337.7,581.1 L339.3,579.8 L340.8,578.5 L342.4,577.2 L343.9,576.0 L345.5,574.7 L347.0,573.4 L348.6,572.1 L350.1,570.8 L351.7,569.6 L353.2,568.3 L354.8,567.0 L356.3,565.7 L357.9,564.4 L359.4,563.1 L360.9,561.8 L362.5,560.6 L364.0,559.3 L365.6,558.0 L367.1,556.7 L368.7,555.4 L370.2,554.1 L371.8,552.9 L373.3,551.6 L374.9,550.3 L376.4,549.0 L378.0,547.8 L379.5,546.5 L381.1,545.2 L382.6,543.9 L384.2,542.7 L385.7,541.4 L387.3,540.1 L388.8,538.9 L390.4,537.6 L391.9,536.3 L393.5,535.1 L395.1,533.8 L396.6,532.5 L398.2,531.3 L399.7,530.0 L401.3,528.8 L402.8,527.5 L404.4,526.3 L406.0,525.0 L407.5,523.7 L409.1,522.5 L410.7,521.2 L412.2,520.0 L413.8,518.7 L415.3,517.5 L416.9,516.2 L418.5,515.0 L420.0,513.7 L421.6,512.5 L423.2,511.3 L424.7,510.0 L426.3,508.8 L427.9,507.5 L429.4,506.3 L431.0,505.0 L432.6,503.8 L434.1,502.6 L435.7,501.3 L437.3,500.1 L438.8,498.9 L440.4,497.6 L442.0,496.4 L443.6,495.2 L445.1,493.9 L446.7,492.7 L448.3,491.5 L449.9,490.3 L451.4,489.0 L453.0,487.8 L454.6,486.6 L456.2,485.4 L457.7,484.1 L459.3,482.9 L460.9,481.7 L462.5,480.5 L464.1,479.2 L465.6,478.0 L467.2,476.8 L468.8,475.6 L470.4,474.4 L472.0,473.2 L473.6,472.0 L475.1,470.7 L476.7,469.5 L478.3,468.3 L479.9,467.1 L481.5,465.9 L483.1,464.7 L484.7,463.5 L486.3,462.3 L487.8,461.1 L489.4,459.9 L491.0,458.7 L492.6,457.5 L494.2,456.3 L495.8,455.1 L497.4,453.9 L499.0,452.7 L500.6,451.5 L502.2,450.3 L503.8,449.1 L505.4,447.9 L507.0,446.7 L508.6,445.5 L510.2,444.3 L511.8,443.1 L513.4,441.9 L514.9,440.7 L516.5,439.5 L518.2,438.3 L519.8,437.1 L521.4,435.9 L523.0,434.8 L524.6,433.6 L526.2,432.4 L527.8,431.2 L529.4,430.0 L531.0,428.8 L532.6,427.6 L534.2,426.5 L535.8,425.3 L537.4,424.1 L539.0,422.9 L540.6,421.7 L542.2,420.6 L543.8,419.4 L545.5,418.2 L547.1,417.0 L548.7,415.9 L550.3,414.7 L551.9,413.5 L553.5,412.3 L555.1,411.2 L556.8,410.0 L558.4,408.8 L560.0,407.7 L561.6,406.5 L563.2,405.3 L564.8,404.2 L566.5,403.0 L568.1,401.8 L569.7,400.7 L571.3,399.5 L573.0,398.4 L574.6,397.2 L576.2,396.0 L577.9,394.9 L579.5,393.7 L581.1,392.6 L582.7,391.4 L584.4,390.3 L586.0,389.2 L587.7,388.0 L589.3,386.9 L590.9,385.7 L592.6,384.6 L594.2,383.5 L595.9,382.3 L597.5,381.2 L599.2,380.1 L600.8,379.0 L602.5,377.8 L604.1,376.7 L605.8,375.6 L607.5,374.5 L609.1,373.4 L610.8,372.3 L612.5,371.2 L614.1,370.1 L615.8,369.0 L617.5,367.9 L619.2,366.8 L620.8,365.7 L622.5,364.6 L624.2,363.5 L625.9,362.5 L627.6,361.4 L629.3,360.3 L631.0,359.3 L632.7,358.2 L634.4,357.1 L636.1,356.1 L637.8,355.0 L639.5,354.0 L641.2,352.9 L642.9,351.9 L644.6,350.9 L646.4,349.8 L648.1,348.8 L649.8,347.8 L651.5,346.8 L653.3,345.8 L655.0,344.8 L656.8,343.8 L658.5,342.8 L660.3,341.8 L662.0,340.8 L663.8,339.8 L665.5,338.8 L667.3,337.8 L669.1,336.9 L670.8,335.9 L672.6,335.0 L674.4,334.0 L676.2,333.1 L677.9,332.2 L679.7,331.2 L681.5,330.3 L683.3,329.4 L685.1,328.5 L686.9,327.7 L688.8,326.8 L690.6,325.9 L692.4,325.1 L694.2,324.3 L696.1,323.5 L697.9,322.7 L699.7,321.9 L701.6,321.1 L703.4,320.4 L705.3,319.6 L707.1,318.9 L709.0,318.2 L710.9,317.6 L712.8,316.9 L714.6,316.3 L716.5,315.7 L718.4,315.1 L720.3,314.5 L722.2,313.9 L724.1,313.4 L726.0,312.9 L728.0,312.4 L729.9,312.0 L731.8,311.6 L733.7,311.2 L735.7,310.8 L737.6,310.4 L739.6,310.1 L741.6,309.8 L743.5,309.6 L745.5,309.3 L747.5,309.1 L749.4,308.9 L751.4,308.8 L753.4,308.6 L755.4,308.5 L757.4,308.4 L759.4,308.3 L761.4,308.3 L763.4,308.2 L765.4,308.2 L767.4,308.1 L769.5,308.1 L771.5,308.1 L773.5,308.2 L775.5,308.2 L777.5,308.2 L779.5,308.2 L781.5,308.3 L783.5,308.3 L785.5,308.4 L787.5,308.4 L789.5,308.5 L791.5,308.6 L793.5,308.6 L795.5,308.7 L797.5,308.8 L799.5,308.9 L801.5,308.9 L803.5,309.0 L805.5,309.1 L807.5,309.2 L809.5,309.3 L811.5,309.3 L813.5,309.4 L815.5,309.5 L817.5,309.6 L819.5,309.7 L821.5,309.7 L823.5,309.8 L825.5,309.9 L827.5,309.9 L829.5,310.0 L831.5,310.1 L833.5,310.1 L835.5,310.2 L837.5,310.2 L839.5,310.2 L841.5,310.3 L843.5,310.3 L845.5,310.3 L847.5,310.3 L849.5,310.3 L851.5,310.3 L853.5,310.3 L855.5,310.3 L857.5,310.3 L859.5,310.3 L861.5,310.3 L863.5,310.2 L865.5,310.2 L867.5,310.2 L869.6,310.1 L871.6,310.1 L873.6,310.0 L875.6,310.0 L877.6,309.9 L879.6,309.9 L881.6,309.8 L883.6,309.7 L885.6,309.7 L887.6,309.6 L889.6,309.5 L891.6,309.4 L893.6,309.4 L895.5,309.3 L897.5,309.2 L899.5,309.1 L901.5,309.0 L903.5,308.9 L905.5,308.9 L907.5,308.8 L909.5,308.7 L911.5,308.6 L913.4,308.5 L915.4,308.4 L917.4,308.3 L919.4,308.2 L921.4,308.1 L923.4,308.1 L925.3,308.0 L927.3,307.9 L929.3,307.8 L931.3,307.7 L933.3,307.6 L935.2,307.5 L937.2,307.4 L939.2,307.3 L941.2,307.2 L943.2,307.2 L945.1,307.1 L947.1,307.0 L949.1,306.9 L951.1,306.8 L953.1,306.8 L955.1,306.7 L957.1,306.6 L959.1,306.5 L961.1,306.5 L963.1,306.4 L965.1,306.3 L967.1,306.3 L969.1,306.2 L971.1,306.1 L973.1,306.1 L975.1,306.0 L977.1,306.0 L979.1,305.9 L981.1,305.9 L983.2,305.8 L985.2,305.8 L987.2,305.8 L989.2,305.7 L991.3,305.7 L993.3,305.6 L995.3,305.6 L997.4,305.5 L999.4,305.5 L1001.4,305.4 L1003.5,305.3 L1005.5,305.3 L1007.5,305.2 L1009.5,305.1 L1011.6,305.0 L1013.6,304.8 L1015.6,304.7 L1017.6,304.5 L1019.6,304.4 L1021.6,304.2 L1023.6,304.0 L1025.6,303.8 L1027.6,303.5 L1029.6,303.3 L1031.6,303.0 L1033.6,302.7 L1035.5,302.4 L1037.5,302.0 L1039.4,301.6 L1041.4,301.2 L1043.3,300.8 L1045.2,300.3 L1047.2,299.9 L1049.1,299.4 L1051.0,298.8 L1052.9,298.3 L1054.8,297.7 L1056.6,297.1 L1058.5,296.4 L1060.4,295.8 L1062.2,295.1 L1064.0,294.4 L1065.9,293.6 L1067.7,292.9 L1069.5,292.1 L1071.3,291.3 L1073.1,290.4 L1074.9,289.6 L1076.6,288.7 L1078.4,287.8 L1080.2,286.9 L1081.9,285.9 L1083.6,285.0 L1085.4,284.0 L1087.1,283.0 L1088.8,281.9 L1090.5,280.9 L1092.1,279.8 L1093.8,278.7 L1095.5,277.6 L1097.1,276.4 L1098.8,275.3 L1100.4,274.1 L1102.0,272.9 L1103.6,271.7 L1105.2,270.4 L1106.8,269.2 L1108.3,267.9 L1109.9,266.6 L1111.5,265.3 L1113.0,264.0 L1114.6,262.6 L1116.1,261.3 L1117.7,260.0 L1119.2,258.7 L1120.8,257.4 L1122.4,256.1 L1123.9,254.9 L1125.5,253.6 L1127.2,252.4 L1128.8,251.2 L1130.4,250.1 L1132.1,248.9 L1133.8,247.9 L1135.5,246.8 L1137.3,245.8 L1139.1,244.9 L1140.9,244.0 L1142.7,243.2 L1144.6,242.4 L1146.5,241.7 L1148.4,241.0 L1150.3,240.5 L1152.2,240.0 L1154.2,239.5 L1156.1,239.2 L1158.1,238.9 L1160.0,238.8 L1162.0,238.7 L1163.9,238.7 L1165.9,238.8 L1167.8,239.0 L1169.7,239.3 L1171.5,239.7 L1173.4,240.3 L1175.3,240.9 L1177.1,241.5 L1178.9,242.3 L1180.6,243.2 L1182.4,244.1 L1184.1,245.1 L1185.7,246.2 L1187.4,247.3 L1189.0,248.5 L1190.6,249.8 L1192.1,251.1 L1193.6,252.5 L1195.1,253.9 L1196.5,255.3 L1197.8,256.8 L1199.2,258.3 L1200.4,259.9 L1201.7,261.4 L1202.9,263.1 L1204.0,264.7 L1205.1,266.3 L1206.2,268.0 L1207.2,269.7 L1208.2,271.4 L1209.2,273.2 L1210.1,274.9 L1211.0,276.7 L1211.9,278.5 L1212.8,280.3 L1213.6,282.2 L1214.4,284.0 L1215.2,285.8 L1216.0,287.7 L1216.7,289.6 L1217.4,291.4 L1218.2,293.3 L1218.9,295.2 L1219.6,297.1 L1220.3,299.0 L1221.0,300.9 L1221.6,302.8 L1222.3,304.7 L1223.0,306.6 L1223.7,308.5 L1224.3,310.4 L1225.0,312.3 L1225.6,314.2 L1226.3,316.1 L1226.9,318.0 L1227.5,319.9 L1228.2,321.8 L1228.8,323.7 L1229.4,325.6 L1230.0,327.5 L1230.6,329.5 L1231.2,331.4 L1231.8,333.3 L1232.4,335.2 L1233.0,337.1 L1233.6,339.0 L1234.2,340.9 L1234.8,342.9 L1235.4,344.8 L1235.9,346.7 L1236.5,348.6 L1237.1,350.5 L1237.6,352.4 L1238.2,354.4 L1238.7,356.3 L1239.3,358.2 L1239.8,360.1 L1240.4,362.1 L1240.9,364.0 L1241.4,365.9 L1242.0,367.8 L1242.5,369.8 L1243.0,371.7 L1243.5,373.6 L1244.1,375.5 L1244.6,377.5 L1245.1,379.4 L1245.6,381.3 L1246.1,383.3 L1246.6,385.2 L1247.1,387.1 L1247.6,389.0 L1248.1,391.0 L1248.6,392.9 L1249.1,394.8 L1249.6,396.8 L1250.1,398.7 L1250.6,400.7 L1251.1,402.6 L1251.5,404.5 L1252.0,406.5 L1252.5,408.4 L1253.0,410.3 L1253.5,412.3 L1253.9,414.2 L1254.4,416.1 L1254.9,418.1 L1255.3,420.0 L1255.8,422.0 L1256.3,423.9 L1256.7,425.8 L1257.2,427.8 L1257.7,429.7 L1258.1,431.7 L1258.6,433.6 L1259.0,435.6 L1259.5,437.5 L1259.9,439.4 L1260.4,441.4 L1260.8,443.3 L1261.3,445.3 L1261.7,447.2 L1262.2,449.2 L1262.6,451.1 L1263.1,453.1 L1263.5,455.0 L1264.0,456.9 L1264.4,458.9 L1264.9,460.8 L1265.3,462.8 L1265.7,464.7 L1266.2,466.7 L1266.6,468.6 L1267.1,470.6 L1267.5,472.5 L1267.9,474.5 L1268.4,476.4 L1268.8,478.4 L1269.2,480.3 L1269.7,482.3 L1270.1,484.2 L1270.5,486.2 L1270.9,488.1 L1271.4,490.1 L1271.8,492.0 L1272.2,494.0 L1272.6,495.9 L1273.0,497.9 L1273.5,499.8 L1273.9,501.8 L1274.3,503.7 L1274.7,505.7 L1275.1,507.7 L1275.5,509.6 L1276.0,511.6 L1276.4,513.5 L1276.8,515.5 L1277.2,517.4 L1277.6,519.4 L1278.0,521.3 L1278.4,523.3 L1278.8,525.3 L1279.2,527.2 L1279.6,529.2 L1280.0,531.1 L1280.5,533.1 L1280.9,535.0 L1281.3,537.0 L1281.7,539.0 L1282.1,540.9 L1282.5,542.9 L1282.9,544.8 L1283.3,546.8 L1283.6,548.7 L1284.0,550.7 L1284.4,552.7 L1284.8,554.6 L1285.2,556.6 L1285.6,558.5 L1286.0,560.5 L1286.4,562.5 L1286.8,564.4 L1287.2,566.4 L1287.6,568.4 L1288.0,570.3 L1288.3,572.3 L1288.7,574.2 L1289.1,576.2 L1289.5,578.2 L1289.9,580.1 L1290.3,582.1 L1290.7,584.0 L1291.0,586.0 L1291.4,588.0 L1291.8,589.9 L1292.2,591.9 L1292.6,593.9 L1292.9,595.8 L1293.3,597.8 L1293.7,599.8 L1294.1,601.7 L1294.4,603.7 L1294.8,605.7 L1295.2,607.6 L1295.6,609.6 L1295.9,611.5 L1296.3,613.5 L1296.7,615.5 L1297.1,617.4 L1297.4,619.4 L1297.8,621.4 L1298.2,623.3 L1298.5,625.3 L1298.9,627.3 L1299.3,629.2 L1299.7,631.2 L1300.0,633.2 L1300.4,635.1 L1300.8,637.1 L1301.1,639.1 L1301.5,641.0 L1301.9,643.0 L1302.2,645.0 L1302.6,646.9 L1302.9,648.9 L1303.3,650.9 L1303.7,652.8 L1304.0,654.8 L1304.4,656.8 L1304.8,658.7 L1305.1,660.7 L1305.5,662.7 L1305.8,664.6 L1306.2,666.6 L1306.6,668.6 L1306.9,670.6 L1307.3,672.5 L1307.6,674.5 L1308.0,676.5 L1308.4,678.4 L1308.7,680.4 L1309.1,682.4 L1309.4,684.3 L1309.8,686.3 L1310.2,688.3 L1310.5,690.2 L1310.9,692.2 L1311.2,694.2 L1311.6,696.2 L1311.9,698.1 L1312.3,700.1 L1312.6,702.1 L1313.0,704.0 L1313.4,706.0 L1313.7,708.0 L1314.1,709.9 L1314.4,711.9 L1314.8,713.9 L1315.1,715.8 L1315.5,717.8 L1315.8,719.8 L1316.2,721.8 L1316.5,723.7 L1316.9,725.7 L1317.2,727.7 L1317.6,729.6 L1318.0,731.6 L1318.3,733.6 L1318.7,735.5 L1319.0,737.5 L1319.4,739.5 L1319.7,741.5 L1320.1,743.4 L1320.4,745.4 L1320.8,747.4 L1321.1,749.3 L1321.5,751.3 L1321.8,753.3 L1322.2,755.2 L1322.5,757.2 L1322.9,759.2 L1323.2,761.2 L1323.6,763.1 L1323.9,765.1 L1324.3,767.1 L1324.6,769.0 L1325.0,771.0 L1325.3,773.0 L1325.7,774.9 L1326.1,776.9 L1326.4,778.9 L1326.8,780.9 L1327.1,782.8 L1327.5,784.8 L1327.8,786.8 L1328.2,788.7 L1328.5,790.7 L1328.9,792.7 L1329.2,794.6 L1329.6,796.6 L1329.9,798.6 L1330.3,800.5 L1330.6,802.5 L1331.0,804.5 L1331.3,806.5 L1331.7,808.4 L1332.1,810.4 L1332.4,812.4 L1332.8,814.3 L1333.1,816.3 L1333.5,818.3 L1333.8,820.2 L1334.2,822.2 L1334.5,824.2 L1334.9,826.1 L1335.3,828.1 L1335.6,830.1 L1336.0,832.0 L1336.3,834.0 L1336.7,836.0 L1337.0,837.9 L1337.4,839.9 L1337.8,841.9 L1338.1,843.8 L1338.5,845.8 L1338.8,847.8 L1339.2,849.7 L1339.6,851.7 L1339.9,853.7 L1340.3,855.6 L1340.6,857.6 L1341.0,859.6 L1341.4,861.5 L1341.7,863.5 L1342.1,865.5 L1342.5,867.4 L1342.8,869.4 L1343.2,871.4 L1343.5,873.3 L1343.9,875.3 L1344.3,877.3 L1344.6,879.2 L1345.0,881.2 L1345.4,883.2 L1345.7,885.1 L1346.1,887.1 L1346.5,889.0 L1346.8,891.0 L1347.2,893.0 L1347.6,894.9 L1348.0,896.9 L1348.3,898.9 L1348.7,900.8 L1349.1,902.8 L1349.4,904.7 L1349.8,906.7 L1350.2,908.7 L1350.6,910.6 L1350.9,912.6 L1351.3,914.6 L1351.7,916.5 L1352.1,918.5 L1352.4,920.4 L1352.8,922.4 L1353.2,924.4 L1353.6,926.3 L1354.0,928.3 L1354.3,930.2 L1354.7,932.2 L1355.1,934.2 L1355.5,936.1 L1355.9,938.1 L1356.3,940.0 L1356.6,942.0 L1357.0,943.9 L1357.4,945.9 L1357.8,947.9 L1358.2,949.8 L1358.6,951.8 L1359.0,953.7 L1359.4,955.7 L1359.8,957.6 L1360.1,959.6 L1360.5,961.6 L1360.9,963.5 L1361.3,965.5 L1361.7,967.4 L1362.1,969.4 L1362.5,971.3 L1362.9,973.3 L1363.3,975.2 L1363.7,977.2 L1364.1,979.2 L1364.5,981.1 L1364.9,983.1 L1365.3,985.0 L1365.7,987.0 L1366.1,988.9 L1366.5,990.9 L1367.0,992.8 L1367.4,994.8 L1367.8,996.7 L1368.2,998.7 L1368.6,1000.6 L1369.0,1002.6 L1369.4,1004.5 L1369.9,1006.5 L1370.3,1008.4 L1370.7,1010.4 L1371.1,1012.3 L1371.5,1014.3 L1372.0,1016.2 L1372.4,1018.2 L1372.8,1020.1 L1373.2,1022.1 L1373.7,1024.0 L1374.1,1026.0 L1374.5,1027.9 L1375.0,1029.9 L1375.4,1031.8 L1375.8,1033.8 L1376.3,1035.7 L1376.7,1037.7 L1377.1,1039.6 L1377.6,1041.6 L1378.0,1043.5 L1378.5,1045.5 L1378.9,1047.4 L1379.4,1049.3 L1379.8,1051.3 L1380.2,1053.2 L1380.7,1055.2 L1381.2,1057.1 L1381.6,1059.1 L1382.1,1061.0 L1382.5,1063.0 L1383.0,1064.9 L1383.4,1066.8 L1383.9,1068.8 L1384.4,1070.7 L1384.8,1072.7 L1385.3,1074.6 L1385.8,1076.6 L1386.2,1078.5 L1386.7,1080.4 L1387.2,1082.4 L1387.7,1084.3 L1388.1,1086.3 L1388.6,1088.2 L1389.1,1090.1 L1389.6,1092.1 L1390.1,1094.0 L1390.5,1096.0 L1391.0,1097.9 L1391.5,1099.8 L1392.0,1101.8 L1392.5,1103.7 L1393.0,1105.6 L1393.5,1107.6 L1394.0,1109.5 L1394.5,1111.5 L1395.0,1113.4 L1395.5,1115.3 L1396.0,1117.3 L1396.5,1119.2 L1397.0,1121.1 L1397.5,1123.1 L1398.0,1125.0 L1398.6,1126.9 L1399.1,1128.9 L1399.6,1130.8 L1400.1,1132.7 L1400.6,1134.7 L1401.2,1136.6 L1401.7,1138.5 L1402.2,1140.5 L1402.8,1142.4 L1403.3,1144.3 L1403.8,1146.3 L1404.4,1148.2 L1404.9,1150.1 L1405.5,1152.1 L1406.0,1154.0 L1406.5,1155.9 L1407.1,1157.9 L1407.7,1159.8 L1408.2,1161.7 L1408.8,1163.7 L1409.3,1165.6 L1409.9,1167.5 L1410.4,1169.4 L1411.0,1171.4 L1411.6,1173.3 L1412.1,1175.2 L1412.7,1177.1 L1413.3,1179.1 L1413.9,1181.0 L1414.5,1182.9 L1415.0,1184.9 L1415.6,1186.8 L1416.2,1188.7 L1416.8,1190.6 L1417.4,1192.6 L1418.0,1194.5 L1418.6,1196.4 L1419.2,1198.3 L1419.8,1200.3 L1420.4,1202.2 L1421.0,1204.1 L1421.6,1206.0 L1422.2,1207.9 L1422.8,1209.9 L1423.5,1211.8 L1424.1,1213.7 L1424.7,1215.6 L1425.3,1217.5 L1426.0,1219.4 L1426.6,1221.3 L1427.3,1223.3 L1427.9,1225.2 L1428.6,1227.1 L1429.2,1229.0 L1429.9,1230.9 L1430.6,1232.8 L1431.3,1234.6 L1432.0,1236.5 L1432.7,1238.4 L1433.4,1240.3 L1434.1,1242.2 L1434.8,1244.0 L1435.5,1245.9 L1436.2,1247.8 L1437.0,1249.6 L1437.7,1251.5 L1438.5,1253.3 L1439.2,1255.2 L1440.0,1257.0 L1440.8,1258.9 L1441.6,1260.7 L1442.4,1262.5 L1443.2,1264.3 L1444.0,1266.1 L1444.9,1267.9 L1445.7,1269.7 L1446.5,1271.5 L1447.4,1273.3 L1448.3,1275.1 L1449.2,1276.9 L1450.1,1278.7 L1451.0,1280.4 L1451.9,1282.2 L1452.8,1283.9 L1453.7,1285.6 L1454.7,1287.4 L1455.7,1289.1 L1456.6,1290.8 L1457.6,1292.5 L1458.6,1294.2 L1459.6,1295.9 L1460.7,1297.6 L1461.7,1299.2 L1462.8,1300.9 L1463.9,1302.6 L1464.9,1304.2 L1466.0,1305.8 L1467.2,1307.5 L1468.3,1309.1 L1469.4,1310.7 L1470.6,1312.3 L1471.8,1313.9 L1473.0,1315.4 L1474.2,1317.0 L1475.4,1318.5 L1476.6,1320.1 L1477.9,1321.6 L1479.2,1323.1 L1480.4,1324.6 L1481.8,1326.1 L1483.1,1327.6 L1484.4,1329.1 L1485.8,1330.5 L1487.2,1332.0 L1488.6,1333.4 L1490.0,1334.9 L1491.4,1336.3 L1492.9,1337.7 L1494.3,1339.0 L1495.8,1340.4 L1497.3,1341.8 L1498.9,1343.1 L1500.4,1344.4 L1502.0,1345.7 L1503.6,1347.0 L1505.2,1348.3 L1506.8,1349.5 L1508.4,1350.7 L1510.1,1351.9 L1511.8,1353.0 L1513.5,1354.1 L1515.2,1355.2 L1516.9,1356.3 L1518.7,1357.3 L1520.4,1358.3 L1522.2,1359.2 L1524.0,1360.1 L1525.8,1361.0 L1527.7,1361.8 L1529.6,1362.6 L1531.4,1363.4 L1533.3,1364.1 L1535.2,1364.7 L1537.2,1365.3 L1539.1,1365.9 L1541.1,1366.4 L1543.0,1366.9 L1545.0,1367.3 L1547.0,1367.6 L1549.0,1368.0 L1551.0,1368.2 L1553.0,1368.4 L1555.0,1368.6 L1557.0,1368.7 L1559.0,1368.7 L1561.0,1368.7 L1563.0,1368.7 L1565.0,1368.6 L1567.0,1368.4 L1569.0,1368.2 L1571.0,1367.9 L1572.9,1367.5 L1574.9,1367.1 L1576.8,1366.7 L1578.7,1366.2 L1580.6,1365.6 L1582.5,1365.0 L1584.4,1364.3 L1586.2,1363.6 L1588.0,1362.8 L1589.8,1361.9 L1591.6,1361.0 L1593.3,1360.0 L1595.0,1359.0 L1596.7,1357.9 L1598.4,1356.8 L1600.1,1355.7 L1601.7,1354.5 L1603.3,1353.3 L1604.9,1352.1 L1606.5,1350.9 L1608.1,1349.6 L1609.7,1348.4 L1611.3,1347.1 L1612.9,1345.9 L1614.4,1344.6 L1616.0,1343.3 L1617.5,1342.0 L1619.0,1340.7 L1620.6,1339.4 L1622.1,1338.1 L1623.6,1336.8 L1625.1,1335.5 L1626.6,1334.2 L1628.1,1332.8 L1629.6,1331.5 L1631.1,1330.2 L1632.5,1328.8 L1634.0,1327.4 L1635.4,1326.1 L1636.9,1324.7 L1638.3,1323.3 L1639.8,1321.9 L1641.2,1320.6 L1642.6,1319.2 L1644.0,1317.8 L1645.4,1316.4 L1646.8,1314.9 L1648.2,1313.5 L1649.6,1312.1 L1651.0,1310.7 L1652.4,1309.2 L1653.8,1307.8 L1655.1,1306.4 L1656.5,1304.9 L1657.8,1303.4 L1659.2,1302.0 L1660.5,1300.5 L1661.9,1299.0 L1663.2,1297.6 L1664.5,1296.1 L1665.9,1294.6 L1667.2,1293.1 L1668.5,1291.6 L1669.8,1290.1 L1671.1,1288.6 L1672.4,1287.1 L1673.7,1285.6 L1675.0,1284.1 L1676.3,1282.6 L1677.5,1281.0 L1678.8,1279.5 L1680.1,1278.0 L1681.3,1276.4 L1682.6,1274.9 L1683.9,1273.4 L1685.1,1271.8 L1686.4,1270.3 L1687.6,1268.7 L1688.8,1267.1 L1690.1,1265.6 L1691.3,1264.0 L1692.5,1262.5 L1693.8,1260.9 L1695.0,1259.3 L1696.2,1257.7 L1697.4,1256.1 L1698.6,1254.6 L1699.8,1253.0 L1701.1,1251.4 L1702.3,1249.8 L1703.5,1248.2 L1704.7,1246.6 L1705.8,1245.0 L1707.0,1243.4 L1708.2,1241.8 L1709.4,1240.2 L1710.6,1238.6 L1711.8,1237.0 L1713.0,1235.3 L1714.1,1233.7 L1715.3,1232.1 L1716.5,1230.5 L1717.7,1228.9 L1718.8,1227.2 L1720.0,1225.6 L1721.1,1224.0 L1722.3,1222.3 L1723.5,1220.7 L1724.6,1219.1 L1725.8,1217.4 L1726.9,1215.8 L1728.1,1214.2 L1729.3,1212.5 L1730.4,1210.9 L1731.6,1209.2 L1732.7,1207.6 L1733.9,1206.0 L1735.0,1204.3 L1736.1,1202.7 L1737.3,1201.0 L1738.4,1199.4 L1739.6,1197.7 L1740.7,1196.1 L1741.9,1194.4 L1743.0,1192.8 L1744.2,1191.1 L1745.3,1189.5 L1746.4,1187.8 L1747.6,1186.2 L1748.7,1184.5 L1749.9,1182.9 L1751.0,1181.2 L1752.2,1179.6 L1753.3,1177.9 L1754.4,1176.3 L1755.6,1174.6 L1756.7,1173.0 L1757.9,1171.3 L1759.0,1169.7 L1760.2,1168.0 L1761.3,1166.4 L1762.5,1164.7 L1763.6,1163.1 L1764.8,1161.5 L1765.9,1159.8 L1767.1,1158.2 L1768.2,1156.5 L1769.4,1154.9 L1770.5,1153.2 L1771.7,1151.6 L1772.8,1150.0 L1774.0,1148.3 L1775.2,1146.7 L1776.3,1145.1 L1777.5,1143.4 L1778.7,1141.8 L1779.8,1140.2 L1781.0,1138.5 L1782.2,1136.9 L1783.3,1135.3 L1784.5,1133.7 L1785.7,1132.0 L1786.9,1130.4 L1788.0,1128.8 L1789.2,1127.2 L1790.4,1125.6 L1791.6,1124.0 L1792.8,1122.3 L1794.0,1120.7 L1795.2,1119.1 L1796.4,1117.5 L1797.6,1115.9 L1798.8,1114.3 L1799.9,1112.7 L1801.1,1111.1 L1802.4,1109.5 L1803.6,1107.9 L1804.8,1106.3 L1806.0,1104.7 L1807.2,1103.1 L1808.4,1101.5 L1809.6,1099.9 L1810.8,1098.3 L1812.0,1096.7 L1813.2,1095.1 L1814.4,1093.5 L1815.7,1092.0 L1816.9,1090.4 L1818.1,1088.8 L1819.3,1087.2 L1820.6,1085.6 L1821.8,1084.0 L1823.0,1082.5 L1824.2,1080.9 L1825.5,1079.3 L1826.7,1077.7 L1827.9,1076.2 L1829.2,1074.6 L1830.4,1073.0 L1831.7,1071.5 L1832.9,1069.9 L1834.1,1068.3 L1835.4,1066.8 L1836.6,1065.2 L1837.9,1063.6 L1839.1,1062.1 L1840.4,1060.5 L1841.6,1059.0 L1842.9,1057.4 L1844.1,1055.8 L1845.4,1054.3 L1846.6,1052.7 L1847.9,1051.2 L1849.2,1049.6 L1850.4,1048.1 L1851.7,1046.5 L1853.0,1045.0 L1854.2,1043.4 L1855.5,1041.9 L1856.8,1040.3 L1858.0,1038.8 L1859.3,1037.3 L1860.6,1035.7 L1861.9,1034.2 L1863.1,1032.6 L1864.4,1031.1 L1865.7,1029.6 L1867.0,1028.0 L1868.2,1026.5 L1869.5,1025.0 L1870.8,1023.5 L1872.1,1021.9 L1873.4,1020.4 L1874.7,1018.9 L1876.0,1017.3 L1877.3,1015.8 L1878.6,1014.3 L1879.8,1012.8 L1881.1,1011.3 L1882.4,1009.7 L1883.7,1008.2 L1885.0,1006.7 L1886.3,1005.2 L1887.6,1003.7 L1888.9,1002.2 L1890.3,1000.6 L1891.6,999.1 L1892.9,997.6 L1894.2,996.1 L1895.5,994.6 L1896.8,993.1 L1898.1,991.6 L1899.4,990.1 L1900.7,988.6 L1902.1,987.1 L1903.4,985.6 L1904.7,984.1 L1906.0,982.6 L1907.3,981.1 L1908.7,979.6 L1910.0,978.1 L1911.3,976.6 L1912.6,975.1 L1914.0,973.6 L1915.3,972.1 L1916.6,970.6 L1918.0,969.2 L1919.3,967.7 L1920.6,966.2 L1922.0,964.7 L1923.3,963.2 L1924.6,961.7 L1926.0,960.2 L1927.3,958.8 L1928.7,957.3 L1930.0,955.8 L1931.3,954.3 L1932.7,952.8 L1934.0,951.4 L1935.4,949.9 L1936.7,948.4 L1938.1,947.0 L1939.4,945.5 L1940.8,944.0 L1942.1,942.5 L1943.5,941.1 L1944.8,939.6 L1946.2,938.1 L1947.6,936.7 L1948.9,935.2 L1950.3,933.7 L1951.6,932.3 L1953.0,930.8 L1954.4,929.4 L1955.7,927.9 L1957.1,926.4 L1958.5,925.0 L1959.8,923.5 L1961.2,922.1 L1962.6,920.6 L1963.9,919.2 L1965.3,917.7 L1966.7,916.3 L1968.1,914.8 L1969.4,913.4 L1970.8,911.9 L1972.2,910.5 L1973.6,909.0 L1974.9,907.6 L1976.3,906.1 L1977.7,904.7 L1979.1,903.2 L1980.5,901.8 L1981.8,900.3 L1983.2,898.9 L1984.6,897.5 L1986.0,896.0 L1987.4,894.6 L1988.8,893.2 L1990.2,891.7 L1991.6,890.3 L1993.0,888.8 L1994.3,887.4 L1995.7,886.0 L1997.1,884.5 L1998.5,883.1 L1999.9,881.7 L2001.3,880.3 L2002.7,878.8 L2004.1,877.4 L2005.5,876.0 L2006.9,874.5 L2008.3,873.1 L2009.7,871.7 L2011.1,870.3 L2012.5,868.9 L2013.9,867.4 L2015.4,866.0 L2016.8,864.6 L2018.2,863.2 L2019.6,861.8 L2021.0,860.3 L2022.4,858.9 L2023.8,857.5 L2025.2,856.1 L2026.6,854.7 L2028.1,853.3 L2029.5,851.9 L2030.9,850.4 L2032.3,849.0 L2033.7,847.6 L2035.1,846.2 L2036.6,844.8 L2038.0,843.4 L2039.4,842.0 L2040.8,840.6 L2042.2,839.2 L2043.7,837.8 L2045.1,836.4 L2046.5,835.0 L2047.9,833.6 L2049.4,832.2 L2050.8,830.8 L2052.2,829.4 L2053.7,828.0 L2055.1,826.6 L2056.5,825.2 L2057.9,823.8 L2059.4,822.4 L2060.8,821.0 L2062.2,819.6 L2063.7,818.2 L2065.1,816.8 L2066.5,815.4 L2068.0,814.0 L2069.4,812.6 L2070.9,811.2 L2072.3,809.8 L2073.7,808.4 L2075.2,807.1 L2076.6,805.7 L2078.1,804.3 L2079.5,802.9 L2080.9,801.5 L2082.4,800.1 L2083.8,798.7 L2085.3,797.3 L2086.7,796.0 L2088.2,794.6 L2089.6,793.2 L2091.1,791.8 L2092.5,790.4 L2093.9,789.1 L2095.4,787.7 L2096.8,786.3 L2098.3,784.9 L2099.7,783.5 L2101.2,782.2 L2102.6,780.8 L2104.1,779.4 L2105.5,778.0 L2107.0,776.7 L2108.5,775.3 L2109.9,773.9 L2111.4,772.5 L2112.8,771.2 L2114.3,769.8 L2115.7,768.4 L2117.2,767.0 L2118.6,765.7 L2120.1,764.3 L2121.6,762.9 L2123.0,761.6 L2124.5,760.2 L2125.9,758.8 L2127.4,757.5 L2128.9,756.1 L2130.3,754.7 L2131.8,753.4 L2133.2,752.0 L2134.7,750.6 L2136.2,749.3 L2137.6,747.9 L2139.1,746.5 L2140.6,745.2 L2142.0,743.8 L2143.5,742.5 L2144.9,741.1 L2146.4,739.7 L2147.9,738.4 L2149.3,737.0 L2150.8,735.7 L2152.3,734.3 L2153.7,732.9 L2155.2,731.6 L2156.7,730.2 L2158.2,728.9 L2159.6,727.5 L2161.1,726.2 L2162.6,724.8 L2164.0,723.4 L2165.5,722.1 L2167.0,720.7 L2168.4,719.4 L2169.9,718.0 L2171.4,716.7 L2172.9,715.3 L2174.3,714.0 L2175.8,712.6 L2177.3,711.3 L2178.7,709.9 L2180.2,708.6 L2181.7,707.2 L2183.2,705.9 L2184.6,704.5 L2186.1,703.2 L2187.6,701.8 L2189.1,700.5 L2190.5,699.1 L2192.0,697.8 L2193.5,696.4 L2195.0,695.1 L2196.4,693.7 L2197.9,692.4 L2199.4,691.1 L2200.9,689.7 L2202.4,688.4 L2203.9,687.0 L2205.3,685.7 L2206.8,684.4 L2208.3,683.1 L2209.8,681.7 L2211.3,680.4 L2212.8,679.1 L2214.3,677.8 L2215.8,676.5 L2217.3,675.2 L2218.9,673.9 L2220.4,672.6 L2221.9,671.3 L2223.4,670.0 L2225.0,668.8 L2226.5,667.5 L2228.0,666.2 L2229.6,665.0 L2231.1,663.7 L2232.7,662.5 L2234.3,661.2 L2235.8,660.0 L2237.4,658.8 L2239.0,657.6 L2240.6,656.4 L2242.2,655.2 L2243.8,654.0 L2245.4,652.9 L2247.1,651.7 L2248.7,650.5 L2250.3,649.4 L2252.0,648.3 L2253.6,647.1 L2255.3,646.0 L2257.0,644.9 L2258.7,643.8 L2260.3,642.8 L2262.0,641.7 L2263.8,640.6 L2265.5,639.6 L2267.2,638.6 L2269.0,637.6 L2270.7,636.6 L2272.5,635.6" stroke="#f00"/>
</g>
<g font-family="'Liberation Serif', 'Times New Roman', serif" font-weight="bold" font-size="88" text-anchor="middle" fill="#000">
<text x="373.5" y="1698">1500</text>
<text x="661.6" y="1698">2000</text>
<text x="949.7" y="1698">2500</text>
<text x="1237.7" y="1698">3000</text>
<text x="1525.8" y="1698">3500</text>
<text x="1813.9" y="1698">4000</text>
<text x="2102.0" y="1698">4500</text>
</g>
<text x="873" y="1833" font-family="'Liberation Serif', 'Times New Roman', serif" font-weight="bold" font-size="104" fill="#000" textLength="822" lengthAdjust="spacing">Magnetic Field (G)</text>
<text transform="translate(98,1080) rotate(-90)" x="0" y="0" font-family="'Liberation Serif', 'Times New Roman', serif" font-weight="bold" font-size="111" fill="#000">Intensity (a.u.)</text>
<line x1="1483" y1="100.5" x2="1643" y2="100.5" stroke="#000" stroke-width="7" stroke-linecap="round"/>
<line x1="1483" y1="217.5" x2="1643" y2="217.5" stroke="#f00" stroke-width="7" stroke-linecap="round"/>
<text x="1683" y="130" font-family="'Liberation Serif', 'Times New Roman', serif" font-weight="bold" font-size="80" fill="#000">Ni<tspan font-size="54" dy="21">1.5</tspan><tspan dy="-21">Co</tspan><tspan font-size="54" dy="21">0.5</tspan><tspan dy="-21">AlO</tspan></text>
<text x="1664" y="247" font-family="'Liberation Serif', 'Times New Roman', serif" font-weight="bold" font-size="80" fill="#000">Pt<tspan font-size="54" dy="21">2</tspan><tspan dy="-21">/Ni</tspan><tspan font-size="54" dy="21">1.5</tspan><tspan dy="-21">Co</tspan><tspan font-size="54" dy="21">0.5</tspan><tspan dy="-21">AlO</tspan></text>
<rect x="327" y="818" width="868" height="623" fill="#fff" stroke="#000" stroke-width="6"/>
<g clip-path="url(#ci)" fill="none" stroke-width="6" stroke-linejoin="round" shape-rendering="crispEdges">
<path d="M326.5,910.6 L328.5,911.0 L330.5,911.4 L332.4,911.8 L334.4,912.1 L336.4,912.4 L338.4,912.7 L340.4,913.0 L342.4,913.3 L344.4,913.5 L346.3,913.8 L348.3,914.0 L350.3,914.2 L352.3,914.3 L354.3,914.5 L356.3,914.6 L358.3,914.7 L360.3,914.8 L362.3,914.9 L364.3,915.0 L366.3,915.1 L368.3,915.1 L370.3,915.1 L372.2,915.1 L374.2,915.1 L376.2,915.1 L378.2,915.1 L380.2,915.0 L382.2,915.0 L384.2,914.9 L386.2,914.8 L388.2,914.8 L390.2,914.6 L392.2,914.5 L394.2,914.4 L396.2,914.3 L398.2,914.1 L400.2,914.0 L402.2,913.8 L404.2,913.7 L406.2,913.5 L408.2,913.3 L410.2,913.1 L412.1,912.9 L414.1,912.7 L416.1,912.5 L418.1,912.3 L420.1,912.0 L422.1,911.8 L424.1,911.6 L426.1,911.3 L428.1,911.1 L430.0,910.9 L432.0,910.6 L434.0,910.4 L436.0,910.1 L438.0,909.8 L440.0,909.6 L441.9,909.3 L443.9,909.1 L445.9,908.8 L447.9,908.5 L449.9,908.3 L451.8,908.0 L453.8,907.8 L455.8,907.5 L457.7,907.3 L459.7,907.0 L461.7,906.8 L463.7,906.5 L465.6,906.3 L467.6,906.1 L469.6,905.8 L471.6,905.6 L473.5,905.4 L475.5,905.2 L477.5,905.0 L479.5,904.8 L481.4,904.6 L483.4,904.4 L485.4,904.3 L487.4,904.1 L489.3,904.0 L491.3,903.9 L493.3,903.7 L495.3,903.6 L497.3,903.5 L499.2,903.5 L501.2,903.4 L503.2,903.3 L505.2,903.3 L507.2,903.3 L509.2,903.3 L511.2,903.3 L513.2,903.3 L515.1,903.3 L517.1,903.4 L519.1,903.5 L521.1,903.6 L523.1,903.7 L525.1,903.8 L527.2,903.9 L529.2,904.1 L531.2,904.3 L533.2,904.5 L535.2,904.7 L537.2,904.9 L539.2,905.1 L541.2,905.3 L543.2,905.6 L545.2,905.8 L547.3,906.0 L549.3,906.3 L551.3,906.5 L553.3,906.7 L555.3,906.9 L557.3,907.2 L559.3,907.4 L561.3,907.6 L563.3,907.8 L565.3,907.9 L567.3,908.1 L569.3,908.2 L571.3,908.4 L573.3,908.5 L575.3,908.6 L577.3,908.6 L579.3,908.7 L581.3,908.7 L583.2,908.7 L585.2,908.6 L587.2,908.6 L589.1,908.5 L591.1,908.3 L593.0,908.2 L595.0,908.0 L596.9,907.7 L598.9,907.5 L600.8,907.1 L602.7,906.8 L604.7,906.4 L606.6,905.9 L608.5,905.4 L610.4,904.9 L612.3,904.3 L614.2,903.7 L616.1,903.0 L617.9,902.3 L619.8,901.5 L621.7,900.8 L623.5,900.0 L625.4,899.1 L627.2,898.3 L629.0,897.4 L630.9,896.4 L632.7,895.5 L634.5,894.6 L636.3,893.6 L638.1,892.6 L639.9,891.6 L641.6,890.6 L643.4,889.6 L645.2,888.5 L646.9,887.5 L648.7,886.5 L650.4,885.4 L652.1,884.4 L653.8,883.4 L655.5,882.3 L657.2,881.3 L658.9,880.3 L660.6,879.3 L662.3,878.3 L664.0,877.3 L665.7,876.3 L667.5,875.4 L669.2,874.5 L670.9,873.6 L672.7,872.7 L674.5,871.9 L676.4,871.0 L678.2,870.3 L680.1,869.5 L682.0,868.8 L684.0,868.2 L685.9,867.6 L687.9,867.2 L689.9,866.9 L691.9,866.8 L693.9,866.8 L695.9,867.1 L697.9,867.5 L699.8,868.0 L701.7,868.7 L703.6,869.6 L705.3,870.5 L707.1,871.5 L708.7,872.6 L710.2,873.7 L711.7,874.9 L713.1,876.2 L714.5,877.6 L715.8,879.0 L717.0,880.4 L718.2,882.0 L719.3,883.5 L720.4,885.1 L721.4,886.8 L722.4,888.5 L723.3,890.2 L724.2,892.0 L725.1,893.8 L725.9,895.6 L726.7,897.5 L727.5,899.4 L728.2,901.3 L728.9,903.2 L729.6,905.1 L730.3,907.1 L730.9,909.0 L731.6,911.0 L732.2,912.9 L732.9,914.9 L733.5,916.8 L734.1,918.7 L734.8,920.7 L735.4,922.6 L736.0,924.6 L736.6,926.5 L737.2,928.4 L737.8,930.4 L738.4,932.3 L738.9,934.3 L739.5,936.2 L740.1,938.1 L740.6,940.1 L741.2,942.0 L741.7,943.9 L742.3,945.9 L742.8,947.8 L743.4,949.7 L743.9,951.6 L744.4,953.6 L744.9,955.5 L745.5,957.4 L746.0,959.4 L746.5,961.3 L747.0,963.2 L747.5,965.1 L748.0,967.1 L748.5,969.0 L748.9,970.9 L749.4,972.9 L749.9,974.8 L750.4,976.7 L750.8,978.6 L751.3,980.6 L751.8,982.5 L752.2,984.4 L752.7,986.4 L753.1,988.3 L753.6,990.2 L754.0,992.2 L754.4,994.1 L754.9,996.0 L755.3,998.0 L755.7,999.9 L756.2,1001.8 L756.6,1003.8 L757.0,1005.7 L757.4,1007.6 L757.8,1009.6 L758.3,1011.5 L758.7,1013.5 L759.1,1015.4 L759.5,1017.3 L759.9,1019.3 L760.3,1021.2 L760.7,1023.2 L761.1,1025.1 L761.5,1027.1 L761.9,1029.0 L762.2,1031.0 L762.6,1032.9 L763.0,1034.9 L763.4,1036.8 L763.8,1038.8 L764.2,1040.7 L764.5,1042.7 L764.9,1044.7 L765.3,1046.6 L765.7,1048.6 L766.0,1050.5 L766.4,1052.5 L766.8,1054.5 L767.1,1056.4 L767.5,1058.4 L767.9,1060.4 L768.2,1062.3 L768.6,1064.3 L769.0,1066.2 L769.3,1068.2 L769.7,1070.2 L770.1,1072.1 L770.4,1074.1 L770.8,1076.1 L771.1,1078.0 L771.5,1080.0 L771.9,1082.0 L772.2,1084.0 L772.6,1085.9 L772.9,1087.9 L773.3,1089.9 L773.7,1091.8 L774.0,1093.8 L774.4,1095.8 L774.8,1097.7 L775.1,1099.7 L775.5,1101.7 L775.8,1103.7 L776.2,1105.6 L776.6,1107.6 L776.9,1109.6 L777.3,1111.5 L777.7,1113.5 L778.0,1115.5 L778.4,1117.4 L778.8,1119.4 L779.1,1121.4 L779.5,1123.4 L779.9,1125.3 L780.2,1127.3 L780.6,1129.3 L781.0,1131.2 L781.4,1133.2 L781.8,1135.2 L782.1,1137.1 L782.5,1139.1 L782.9,1141.1 L783.3,1143.0 L783.7,1145.0 L784.1,1147.0 L784.5,1148.9 L784.9,1150.9 L785.3,1152.9 L785.6,1154.8 L786.1,1156.8 L786.5,1158.7 L786.9,1160.7 L787.3,1162.7 L787.7,1164.6 L788.1,1166.6 L788.5,1168.5 L788.9,1170.5 L789.4,1172.5 L789.8,1174.4 L790.2,1176.4 L790.7,1178.3 L791.1,1180.3 L791.5,1182.2 L792.0,1184.2 L792.4,1186.1 L792.9,1188.1 L793.3,1190.0 L793.8,1191.9 L794.3,1193.9 L794.7,1195.8 L795.2,1197.8 L795.7,1199.7 L796.2,1201.6 L796.7,1203.6 L797.2,1205.5 L797.7,1207.5 L798.2,1209.4 L798.7,1211.3 L799.2,1213.2 L799.7,1215.2 L800.2,1217.1 L800.8,1219.0 L801.3,1220.9 L801.9,1222.9 L802.4,1224.8 L803.0,1226.7 L803.5,1228.6 L804.1,1230.5 L804.6,1232.4 L805.2,1234.3 L805.8,1236.2 L806.4,1238.1 L807.0,1240.0 L807.6,1241.9 L808.2,1243.8 L808.8,1245.7 L809.5,1247.6 L810.1,1249.5 L810.7,1251.4 L811.4,1253.3 L812.0,1255.2 L812.7,1257.1 L813.4,1258.9 L814.0,1260.8 L814.7,1262.7 L815.4,1264.6 L816.1,1266.4 L816.8,1268.3 L817.5,1270.2 L818.2,1272.0 L819.0,1273.9 L819.7,1275.7 L820.5,1277.6 L821.2,1279.4 L822.0,1281.3 L822.8,1283.1 L823.5,1285.0 L824.3,1286.8 L825.1,1288.6 L826.0,1290.5 L826.8,1292.3 L827.6,1294.1 L828.5,1295.9 L829.3,1297.7 L830.2,1299.5 L831.1,1301.3 L831.9,1303.1 L832.8,1304.9 L833.8,1306.7 L834.7,1308.4 L835.6,1310.2 L836.6,1312.0 L837.5,1313.7 L838.5,1315.4 L839.5,1317.2 L840.5,1318.9 L841.5,1320.6 L842.5,1322.3 L843.6,1324.0 L844.6,1325.7 L845.7,1327.4 L846.8,1329.0 L847.9,1330.7 L849.0,1332.3 L850.1,1334.0 L851.3,1335.6 L852.5,1337.2 L853.6,1338.8 L854.8,1340.4 L856.0,1342.0 L857.3,1343.6 L858.5,1345.1 L859.8,1346.7 L861.0,1348.2 L862.3,1349.8 L863.6,1351.3 L864.8,1352.8 L866.1,1354.4 L867.4,1355.9 L868.7,1357.4 L870.0,1359.0 L871.2,1360.5 L872.5,1362.1 L873.8,1363.7 L875.0,1365.3 L876.2,1366.9 L877.5,1368.5 L878.7,1370.1 L879.9,1371.7 L881.0,1373.4 L882.2,1375.1 L883.3,1376.8 L884.4,1378.5 L885.5,1380.2 L886.7,1381.9 L887.8,1383.5 L889.1,1385.1 L890.3,1386.6 L891.7,1388.1 L893.1,1389.5 L894.7,1390.7 L896.3,1391.9 L898.1,1392.9 L899.9,1393.8 L901.7,1394.6 L903.6,1395.2 L905.6,1395.6 L907.5,1395.8 L909.5,1395.9 L911.5,1395.7 L913.4,1395.4 L915.3,1395.0 L917.2,1394.4 L919.0,1393.6 L920.8,1392.7 L922.5,1391.7 L924.1,1390.6 L925.7,1389.4 L927.3,1388.2 L928.9,1386.9 L930.5,1385.5 L932.0,1384.2 L933.6,1382.9 L935.2,1381.6 L936.8,1380.4 L938.4,1379.1 L939.9,1377.9 L941.5,1376.6 L943.1,1375.4 L944.6,1374.1 L946.2,1372.8 L947.7,1371.5 L949.2,1370.2 L950.7,1368.9 L952.2,1367.6 L953.6,1366.2 L955.1,1364.8 L956.5,1363.5 L957.9,1362.1 L959.3,1360.6 L960.7,1359.2 L962.1,1357.8 L963.4,1356.4 L964.8,1354.9 L966.1,1353.4 L967.5,1352.0 L968.8,1350.5 L970.1,1349.0 L971.4,1347.5 L972.7,1345.9 L973.9,1344.4 L975.2,1342.9 L976.5,1341.3 L977.7,1339.8 L978.9,1338.2 L980.2,1336.7 L981.4,1335.1 L982.6,1333.5 L983.8,1331.9 L985.0,1330.3 L986.2,1328.7 L987.4,1327.1 L988.6,1325.5 L989.7,1323.9 L990.9,1322.3 L992.1,1320.6 L993.2,1319.0 L994.4,1317.4 L995.5,1315.7 L996.7,1314.1 L997.8,1312.5 L998.9,1310.8 L1000.1,1309.2 L1001.2,1307.5 L1002.3,1305.9 L1003.4,1304.2 L1004.6,1302.6 L1005.7,1300.9 L1006.8,1299.3 L1007.9,1297.6 L1009.0,1295.9 L1010.1,1294.3 L1011.3,1292.6 L1012.4,1291.0 L1013.5,1289.3 L1014.6,1287.6 L1015.7,1286.0 L1016.8,1284.3 L1017.9,1282.7 L1019.0,1281.0 L1020.1,1279.3 L1021.2,1277.7 L1022.3,1276.0 L1023.4,1274.3 L1024.5,1272.7 L1025.6,1271.0 L1026.7,1269.4 L1027.9,1267.7 L1029.0,1266.0 L1030.1,1264.4 L1031.2,1262.7 L1032.3,1261.1 L1033.4,1259.4 L1034.5,1257.8 L1035.6,1256.1 L1036.7,1254.4 L1037.9,1252.8 L1039.0,1251.1 L1040.1,1249.5 L1041.2,1247.8 L1042.3,1246.2 L1043.5,1244.5 L1044.6,1242.9 L1045.7,1241.3 L1046.9,1239.6 L1048.0,1238.0 L1049.1,1236.4 L1050.3,1234.7 L1051.4,1233.1 L1052.6,1231.5 L1053.7,1229.8 L1054.9,1228.2 L1056.1,1226.6 L1057.2,1225.0 L1058.4,1223.3 L1059.6,1221.7 L1060.7,1220.1 L1061.9,1218.5 L1063.1,1216.9 L1064.3,1215.3 L1065.4,1213.7 L1066.6,1212.0 L1067.8,1210.4 L1069.0,1208.8 L1070.2,1207.2 L1071.4,1205.6 L1072.6,1204.0 L1073.8,1202.4 L1075.0,1200.8 L1076.2,1199.2 L1077.4,1197.6 L1078.6,1196.1 L1079.8,1194.5 L1081.0,1192.9 L1082.2,1191.3 L1083.4,1189.7 L1084.6,1188.1 L1085.8,1186.5 L1087.0,1184.9 L1088.3,1183.3 L1089.5,1181.8 L1090.7,1180.2 L1091.9,1178.6 L1093.1,1177.0 L1094.4,1175.4 L1095.6,1173.9 L1096.8,1172.3 L1098.0,1170.7 L1099.3,1169.1 L1100.5,1167.5 L1101.7,1166.0 L1102.9,1164.4 L1104.2,1162.8 L1105.4,1161.2 L1106.6,1159.7 L1107.9,1158.1 L1109.1,1156.5 L1110.3,1154.9 L1111.6,1153.4 L1112.8,1151.8 L1114.0,1150.2 L1115.2,1148.6 L1116.5,1147.1 L1117.7,1145.5 L1118.9,1143.9 L1120.2,1142.3 L1121.4,1140.8 L1122.6,1139.2 L1123.9,1137.6 L1125.1,1136.0 L1126.3,1134.5 L1127.6,1132.9 L1128.8,1131.3 L1130.0,1129.7 L1131.2,1128.2 L1132.5,1126.6 L1133.7,1125.0 L1134.9,1123.4 L1136.1,1121.9 L1137.4,1120.3 L1138.6,1118.7 L1139.8,1117.1 L1141.0,1115.5 L1142.2,1114.0 L1143.5,1112.4 L1144.7,1110.8 L1145.9,1109.2 L1147.1,1107.6 L1148.3,1106.0 L1149.5,1104.4 L1150.7,1102.9 L1151.9,1101.3 L1153.1,1099.7 L1154.3,1098.1 L1155.5,1096.5 L1156.7,1094.9 L1157.9,1093.3 L1159.1,1091.7 L1160.3,1090.1 L1161.5,1088.5 L1162.7,1086.9 L1163.8,1085.2 L1165.0,1083.6 L1166.2,1082.0 L1167.4,1080.4 L1168.5,1078.8 L1169.7,1077.2 L1170.9,1075.5 L1172.0,1073.9 L1173.2,1072.3 L1174.3,1070.6 L1175.4,1069.0 L1176.6,1067.4 L1177.7,1065.7 L1178.9,1064.1 L1180.0,1062.4 L1181.1,1060.8 L1182.2,1059.1 L1183.3,1057.5 L1184.4,1055.8 L1185.5,1054.1 L1186.6,1052.4 L1187.7,1050.8 L1188.8,1049.1 L1189.9,1047.4 L1191.0,1045.7 L1192.1,1044.0" stroke="#000"/>
<path d="M326.5,926.9 L328.5,927.2 L330.5,927.4 L332.4,927.6 L334.4,927.8 L336.4,928.1 L338.4,928.3 L340.4,928.5 L342.4,928.8 L344.3,929.0 L346.3,929.2 L348.3,929.5 L350.3,929.7 L352.3,929.9 L354.3,930.2 L356.3,930.4 L358.3,930.6 L360.3,930.9 L362.3,931.1 L364.3,931.3 L366.2,931.5 L368.2,931.7 L370.2,931.9 L372.2,932.1 L374.2,932.3 L376.2,932.4 L378.2,932.6 L380.2,932.7 L382.2,932.9 L384.2,933.0 L386.2,933.1 L388.2,933.2 L390.2,933.3 L392.2,933.4 L394.2,933.5 L396.2,933.6 L398.2,933.6 L400.1,933.6 L402.1,933.6 L404.1,933.6 L406.1,933.6 L408.1,933.5 L410.1,933.5 L412.1,933.4 L414.1,933.3 L416.1,933.2 L418.1,933.0 L420.1,932.9 L422.1,932.7 L424.0,932.5 L426.0,932.2 L428.0,932.0 L430.0,931.7 L432.0,931.4 L434.0,931.1 L436.0,930.8 L438.0,930.5 L439.9,930.1 L441.9,929.8 L443.9,929.4 L445.9,929.1 L447.9,928.7 L449.9,928.3 L451.8,927.9 L453.8,927.6 L455.8,927.2 L457.8,926.8 L459.8,926.5 L461.7,926.1 L463.7,925.8 L465.7,925.4 L467.7,925.1 L469.7,924.8 L471.6,924.5 L473.6,924.2 L475.6,923.9 L477.6,923.7 L479.5,923.5 L481.5,923.3 L483.5,923.1 L485.5,922.9 L487.4,922.8 L489.4,922.7 L491.4,922.6 L493.4,922.5 L495.3,922.5 L497.3,922.5 L499.3,922.5 L501.3,922.5 L503.2,922.5 L505.2,922.5 L507.2,922.6 L509.2,922.6 L511.2,922.7 L513.1,922.8 L515.1,922.9 L517.1,923.1 L519.1,923.2 L521.1,923.3 L523.1,923.5 L525.1,923.7 L527.1,923.8 L529.1,924.0 L531.1,924.2 L533.1,924.4 L535.1,924.6 L537.1,924.8 L539.1,925.0 L541.1,925.2 L543.1,925.4 L545.1,925.6 L547.1,925.8 L549.1,926.0 L551.1,926.2 L553.2,926.4 L555.2,926.6 L557.2,926.8 L559.2,926.9 L561.2,927.1 L563.2,927.3 L565.2,927.4 L567.2,927.5 L569.2,927.7 L571.2,927.8 L573.2,927.9 L575.2,928.0 L577.2,928.0 L579.2,928.1 L581.2,928.1 L583.2,928.1 L585.2,928.1 L587.2,928.1 L589.2,928.0 L591.1,928.0 L593.1,927.9 L595.1,927.8 L597.1,927.6 L599.0,927.4 L601.0,927.2 L602.9,927.0 L604.9,926.8 L606.9,926.5 L608.8,926.2 L610.7,925.8 L612.7,925.4 L614.6,925.0 L616.5,924.5 L618.5,924.1 L620.4,923.5 L622.3,923.0 L624.2,922.4 L626.1,921.8 L628.0,921.2 L629.9,920.5 L631.8,919.8 L633.6,919.1 L635.5,918.3 L637.4,917.6 L639.2,916.8 L641.1,916.0 L642.9,915.1 L644.8,914.3 L646.6,913.4 L648.4,912.5 L650.3,911.6 L652.1,910.6 L653.9,909.7 L655.7,908.7 L657.5,907.8 L659.3,906.8 L661.1,905.8 L662.9,904.9 L664.7,903.9 L666.5,903.0 L668.3,902.2 L670.1,901.3 L672.0,900.5 L673.9,899.8 L675.7,899.1 L677.6,898.4 L679.6,897.9 L681.5,897.4 L683.5,897.0 L685.5,896.7 L687.5,896.5 L689.4,896.5 L691.4,896.6 L693.3,896.9 L695.2,897.3 L697.1,897.9 L699.0,898.7 L700.7,899.5 L702.5,900.5 L704.2,901.5 L705.9,902.6 L707.5,903.7 L709.0,904.9 L710.5,906.2 L712.0,907.4 L713.4,908.8 L714.7,910.1 L716.0,911.5 L717.3,913.0 L718.5,914.5 L719.7,916.0 L720.8,917.5 L721.9,919.1 L723.0,920.7 L724.0,922.4 L725.0,924.1 L726.0,925.8 L727.0,927.5 L727.9,929.3 L728.7,931.0 L729.6,932.8 L730.4,934.7 L731.2,936.5 L732.0,938.4 L732.8,940.2 L733.5,942.1 L734.3,944.0 L735.0,945.9 L735.7,947.8 L736.4,949.7 L737.0,951.7 L737.7,953.6 L738.4,955.5 L739.0,957.5 L739.6,959.4 L740.3,961.4 L740.9,963.3 L741.5,965.2 L742.1,967.2 L742.8,969.1 L743.4,971.0 L744.0,973.0 L744.6,974.9 L745.2,976.9 L745.8,978.8 L746.4,980.7 L746.9,982.7 L747.5,984.6 L748.1,986.5 L748.7,988.5 L749.2,990.4 L749.8,992.3 L750.3,994.3 L750.9,996.2 L751.4,998.1 L752.0,1000.1 L752.5,1002.0 L753.1,1003.9 L753.6,1005.9 L754.1,1007.8 L754.7,1009.7 L755.2,1011.6 L755.7,1013.6 L756.2,1015.5 L756.8,1017.4 L757.3,1019.4 L757.8,1021.3 L758.3,1023.2 L758.8,1025.2 L759.3,1027.1 L759.8,1029.0 L760.3,1030.9 L760.8,1032.9 L761.3,1034.8 L761.8,1036.7 L762.3,1038.7 L762.8,1040.6 L763.2,1042.5 L763.7,1044.5 L764.2,1046.4 L764.7,1048.3 L765.2,1050.2 L765.6,1052.2 L766.1,1054.1 L766.6,1056.0 L767.1,1058.0 L767.5,1059.9 L768.0,1061.8 L768.5,1063.7 L769.0,1065.7 L769.4,1067.6 L769.9,1069.5 L770.4,1071.5 L770.8,1073.4 L771.3,1075.3 L771.8,1077.2 L772.2,1079.2 L772.7,1081.1 L773.2,1083.0 L773.6,1085.0 L774.1,1086.9 L774.6,1088.8 L775.0,1090.8 L775.5,1092.7 L776.0,1094.6 L776.4,1096.6 L776.9,1098.5 L777.4,1100.4 L777.8,1102.4 L778.3,1104.3 L778.8,1106.2 L779.2,1108.2 L779.7,1110.1 L780.2,1112.0 L780.7,1114.0 L781.1,1115.9 L781.6,1117.8 L782.1,1119.8 L782.6,1121.7 L783.0,1123.6 L783.5,1125.6 L784.0,1127.5 L784.5,1129.4 L785.0,1131.4 L785.5,1133.3 L786.0,1135.2 L786.5,1137.2 L787.0,1139.1 L787.5,1141.1 L788.0,1143.0 L788.5,1144.9 L789.0,1146.9 L789.5,1148.8 L790.0,1150.8 L790.5,1152.7 L791.0,1154.6 L791.5,1156.6 L792.0,1158.5 L792.6,1160.5 L793.1,1162.4 L793.6,1164.4 L794.1,1166.3 L794.6,1168.2 L795.2,1170.2 L795.7,1172.1 L796.2,1174.1 L796.7,1176.0 L797.3,1178.0 L797.8,1179.9 L798.3,1181.8 L798.8,1183.8 L799.3,1185.7 L799.9,1187.7 L800.4,1189.6 L800.9,1191.6 L801.4,1193.5 L801.9,1195.5 L802.5,1197.4 L803.0,1199.3 L803.5,1201.3 L804.0,1203.2 L804.5,1205.2 L805.0,1207.1 L805.5,1209.0 L806.1,1211.0 L806.6,1212.9 L807.1,1214.9 L807.6,1216.8 L808.2,1218.7 L808.7,1220.6 L809.3,1222.6 L809.9,1224.5 L810.4,1226.4 L811.0,1228.3 L811.6,1230.2 L812.2,1232.1 L812.9,1234.0 L813.5,1235.8 L814.2,1237.7 L814.9,1239.6 L815.6,1241.4 L816.3,1243.3 L817.0,1245.1 L817.8,1246.9 L818.6,1248.8 L819.4,1250.6 L820.2,1252.4 L821.1,1254.2 L822.0,1255.9 L822.9,1257.7 L823.8,1259.5 L824.8,1261.2 L825.8,1263.0 L826.8,1264.7 L827.8,1266.4 L828.8,1268.1 L829.9,1269.8 L830.9,1271.5 L832.0,1273.2 L833.1,1274.9 L834.2,1276.6 L835.3,1278.3 L836.5,1279.9 L837.6,1281.6 L838.8,1283.2 L840.0,1284.8 L841.2,1286.5 L842.3,1288.1 L843.5,1289.7 L844.8,1291.3 L846.0,1292.9 L847.2,1294.5 L848.4,1296.1 L849.6,1297.7 L850.9,1299.2 L852.1,1300.8 L853.4,1302.4 L854.6,1303.9 L855.8,1305.5 L857.1,1307.0 L858.3,1308.5 L859.6,1310.1 L860.8,1311.6 L862.0,1313.1 L863.3,1314.7 L864.5,1316.2 L865.7,1317.7 L866.9,1319.2 L868.2,1320.7 L869.4,1322.3 L870.6,1323.8 L871.8,1325.3 L873.1,1326.9 L874.3,1328.4 L875.6,1330.0 L876.8,1331.6 L878.0,1333.2 L879.3,1334.8 L880.6,1336.5 L881.8,1338.1 L883.1,1339.8 L884.4,1341.5 L885.7,1343.2 L887.0,1344.8 L888.4,1346.5 L889.7,1348.0 L891.1,1349.6 L892.6,1351.1 L894.1,1352.5 L895.6,1353.8 L897.1,1355.0 L898.7,1356.1 L900.4,1357.0 L902.1,1357.8 L903.8,1358.5 L905.6,1359.1 L907.5,1359.4 L909.3,1359.7 L911.2,1359.8 L913.1,1359.7 L915.0,1359.5 L916.9,1359.2 L918.8,1358.7 L920.6,1358.1 L922.5,1357.3 L924.2,1356.4 L926.0,1355.4 L927.7,1354.3 L929.4,1353.2 L931.0,1352.0 L932.7,1350.8 L934.3,1349.6 L936.0,1348.3 L937.6,1347.1 L939.2,1345.8 L940.8,1344.6 L942.3,1343.3 L943.9,1342.1 L945.5,1340.8 L947.0,1339.5 L948.5,1338.2 L950.1,1336.9 L951.6,1335.6 L953.1,1334.3 L954.6,1333.0 L956.1,1331.7 L957.6,1330.3 L959.0,1329.0 L960.5,1327.7 L962.0,1326.3 L963.4,1325.0 L964.9,1323.6 L966.3,1322.2 L967.7,1320.9 L969.2,1319.5 L970.6,1318.1 L972.0,1316.7 L973.5,1315.3 L974.9,1313.9 L976.3,1312.5 L977.7,1311.1 L979.1,1309.7 L980.5,1308.3 L981.9,1306.9 L983.3,1305.4 L984.7,1304.0 L986.1,1302.6 L987.5,1301.1 L988.9,1299.7 L990.3,1298.2 L991.7,1296.8 L993.0,1295.3 L994.4,1293.8 L995.7,1292.3 L997.0,1290.7 L998.3,1289.2 L999.5,1287.6 L1000.8,1286.1 L1002.0,1284.5 L1003.1,1282.9 L1004.3,1281.2 L1005.4,1279.6 L1006.5,1277.9 L1007.6,1276.3 L1008.7,1274.6 L1009.8,1272.9 L1010.8,1271.2 L1011.9,1269.5 L1012.9,1267.8 L1013.9,1266.1 L1015.0,1264.4 L1016.0,1262.6 L1017.0,1260.9 L1018.0,1259.2 L1019.0,1257.5 L1020.0,1255.7 L1021.1,1254.0 L1022.1,1252.3 L1023.1,1250.6 L1024.2,1248.9 L1025.2,1247.2 L1026.3,1245.5 L1027.4,1243.8 L1028.5,1242.2 L1029.6,1240.5 L1030.7,1238.8 L1031.9,1237.2 L1033.0,1235.6 L1034.2,1234.0 L1035.4,1232.3 L1036.6,1230.7 L1037.8,1229.1 L1039.0,1227.6 L1040.2,1226.0 L1041.5,1224.4 L1042.7,1222.8 L1044.0,1221.3 L1045.2,1219.7 L1046.5,1218.2 L1047.8,1216.6 L1049.1,1215.1 L1050.4,1213.6 L1051.7,1212.0 L1052.9,1210.5 L1054.2,1209.0 L1055.6,1207.5 L1056.9,1205.9 L1058.2,1204.4 L1059.5,1202.9 L1060.8,1201.4 L1062.1,1199.9 L1063.5,1198.4 L1064.8,1196.9 L1066.1,1195.4 L1067.5,1194.0 L1068.8,1192.5 L1070.1,1191.0 L1071.5,1189.5 L1072.8,1188.0 L1074.2,1186.5 L1075.5,1185.1 L1076.9,1183.6 L1078.2,1182.1 L1079.6,1180.6 L1080.9,1179.2 L1082.3,1177.7 L1083.6,1176.2 L1085.0,1174.8 L1086.4,1173.3 L1087.7,1171.8 L1089.1,1170.4 L1090.5,1168.9 L1091.8,1167.5 L1093.2,1166.0 L1094.5,1164.5 L1095.9,1163.1 L1097.3,1161.6 L1098.6,1160.1 L1100.0,1158.7 L1101.4,1157.2 L1102.7,1155.7 L1104.1,1154.3 L1105.4,1152.8 L1106.8,1151.3 L1108.1,1149.9 L1109.5,1148.4 L1110.8,1146.9 L1112.2,1145.4 L1113.5,1144.0 L1114.9,1142.5 L1116.2,1141.0 L1117.6,1139.5 L1118.9,1138.1 L1120.3,1136.6 L1121.6,1135.1 L1122.9,1133.6 L1124.2,1132.1 L1125.6,1130.6 L1126.9,1129.1 L1128.2,1127.6 L1129.5,1126.1 L1130.8,1124.6 L1132.1,1123.1 L1133.4,1121.5 L1134.7,1120.0 L1136.0,1118.5 L1137.3,1117.0 L1138.6,1115.4 L1139.9,1113.9 L1141.1,1112.4 L1142.4,1110.8 L1143.7,1109.3 L1144.9,1107.7 L1146.2,1106.2 L1147.5,1104.6 L1148.7,1103.1 L1150.0,1101.5 L1151.2,1099.9 L1152.5,1098.4 L1153.7,1096.8 L1155.0,1095.2 L1156.2,1093.7 L1157.5,1092.1 L1158.7,1090.6 L1160.0,1089.0 L1161.2,1087.4 L1162.5,1085.9 L1163.7,1084.3 L1165.0,1082.7 L1166.2,1081.2 L1167.5,1079.6 L1168.7,1078.1 L1170.0,1076.5 L1171.3,1075.0 L1172.5,1073.4 L1173.8,1071.9 L1175.1,1070.3 L1176.3,1068.8 L1177.6,1067.2 L1178.9,1065.7 L1180.2,1064.2 L1181.5,1062.7 L1182.8,1061.1 L1184.1,1059.6 L1185.4,1058.1 L1186.7,1056.6 L1188.1,1055.1 L1189.4,1053.6 L1190.7,1052.1 L1192.1,1050.7" stroke="#f00"/>
</g>
<line x1="354.0" y1="1441" x2="354.0" y2="1456" stroke="#000" stroke-width="5.5"/>
<line x1="460.5" y1="1441" x2="460.5" y2="1456" stroke="#000" stroke-width="5.5"/>
<line x1="567.0" y1="1441" x2="567.0" y2="1456" stroke="#000" stroke-width="5.5"/>
<line x1="673.5" y1="1441" x2="673.5" y2="1456" stroke="#000" stroke-width="5.5"/>
<line x1="780.0" y1="1441" x2="780.0" y2="1456" stroke="#000" stroke-width="5.5"/>
<line x1="886.5" y1="1441" x2="886.5" y2="1456" stroke="#000" stroke-width="5.5"/>
<line x1="993.0" y1="1441" x2="993.0" y2="1456" stroke="#000" stroke-width="5.5"/>
<line x1="1099.5" y1="1441" x2="1099.5" y2="1456" stroke="#000" stroke-width="5.5"/>
<g font-family="'Liberation Serif', 'Times New Roman', serif" font-weight="bold" font-size="43" text-anchor="middle" fill="#000">
<text x="353.5" y="1494">3.0</text>
<text x="460.0" y="1494">2.8</text>
<text x="566.5" y="1494">2.6</text>
<text x="673.0" y="1494">2.4</text>
<text x="779.5" y="1494">2.2</text>
<text x="886.0" y="1494">2.0</text>
<text x="992.5" y="1494">1.8</text>
<text x="1099.0" y="1494">1.6</text>
</g>
<text x="793" y="1548" text-anchor="middle" font-family="'Liberation Serif', 'Times New Roman', serif" font-weight="bold" font-size="51" fill="#000" textLength="165.5" lengthAdjust="spacingAndGlyphs">g value</text>
<text transform="translate(290,1297) rotate(-90)" font-family="'Liberation Serif', 'Times New Roman', serif" font-weight="bold" font-size="60" fill="#000" textLength="365" lengthAdjust="spacing">Intensity (a.u.)</text>
<line x1="353.5" y1="1329.4" x2="460" y2="1329.4" stroke="#000" stroke-width="5.2"/>
<line x1="353.5" y1="1396.4" x2="460" y2="1396.4" stroke="#f00" stroke-width="5.2"/>
<text x="470" y="1344.7" font-family="'Liberation Serif', 'Times New Roman', serif" font-weight="bold" font-size="46" fill="#000">Ni<tspan font-size="26" dy="15.5">1.5</tspan><tspan dy="-15.5">Co</tspan><tspan font-size="26" dy="15.5">0.5</tspan><tspan dy="-15.5">AlO</tspan></text>
<text x="470" y="1412.4" font-family="'Liberation Serif', 'Times New Roman', serif" font-weight="bold" font-size="46" fill="#000">Pt<tspan font-size="26" dy="15.5">2</tspan><tspan dy="-15.5">/Ni</tspan><tspan font-size="26" dy="15.5">1.5</tspan><tspan dy="-15.5">Co</tspan><tspan font-size="26" dy="15.5">0.5</tspan><tspan dy="-15.5">AlO</tspan></text>
<text x="600" y="1133" font-family="'Liberation Serif', 'Times New Roman', serif" font-weight="bold" font-size="46" fill="#000">g=2.23</text>
<line x1="693" y1="1084.6" x2="736" y2="1064.3" stroke="#000" stroke-width="4.8" stroke-linecap="butt"/>
<polygon points="731,1057.6 760,1054.6 737.7,1072.6" fill="#000" stroke="#000" stroke-width="1.2" stroke-linejoin="round"/>
</svg>
</body></html>
